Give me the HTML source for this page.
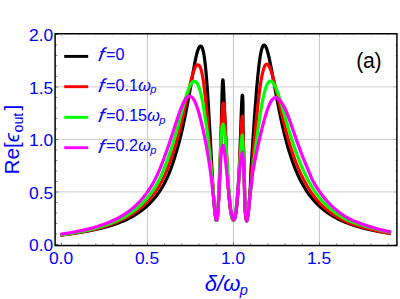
<!DOCTYPE html>
<html><head><meta charset="utf-8"><title>plot</title>
<style>html,body{margin:0;padding:0;background:#fff;overflow:hidden}body{width:400px;height:299px;position:relative;font-family:"Liberation Sans",sans-serif}</style>
</head><body>
<svg width="400" height="299" viewBox="0 0 400 299" style="position:absolute;left:0;top:0">
<rect width="400" height="299" fill="#ffffff"/>
<line x1="147.45" y1="33.75" x2="147.45" y2="245.55" stroke="#b8b8b8" stroke-width="0.8"/>
<line x1="233.45" y1="33.75" x2="233.45" y2="245.55" stroke="#b8b8b8" stroke-width="0.8"/>
<line x1="319.45" y1="33.75" x2="319.45" y2="245.55" stroke="#b8b8b8" stroke-width="0.8"/>
<line x1="55.1" y1="191.90" x2="396.9" y2="191.90" stroke="#c6c6c6" stroke-width="0.9"/>
<line x1="55.1" y1="139.40" x2="396.9" y2="139.40" stroke="#c6c6c6" stroke-width="0.9"/>
<line x1="55.1" y1="86.90" x2="396.9" y2="86.90" stroke="#c6c6c6" stroke-width="0.9"/>
<clipPath id="c"><rect x="55.1" y="33.75" width="341.79999999999995" height="211.8"/></clipPath>
<g clip-path="url(#c)" fill="none" stroke-linejoin="round" stroke-linecap="butt">
<path d="M60.40 234.92 L61.00 234.85 L61.59 234.79 L62.19 234.72 L62.79 234.65 L63.38 234.59 L63.98 234.52 L64.57 234.45 L65.17 234.38 L65.77 234.31 L66.36 234.24 L66.96 234.17 L67.55 234.09 L68.15 234.02 L68.74 233.94 L69.34 233.87 L69.93 233.79 L70.53 233.72 L71.12 233.64 L71.72 233.56 L72.31 233.48 L72.91 233.40 L73.50 233.32 L74.10 233.24 L74.69 233.15 L75.28 233.07 L75.88 232.98 L76.47 232.90 L77.07 232.81 L77.66 232.72 L78.25 232.63 L78.85 232.54 L79.44 232.45 L80.03 232.36 L80.63 232.27 L81.22 232.17 L81.81 232.08 L82.40 231.98 L82.99 231.89 L83.59 231.79 L84.18 231.69 L84.77 231.59 L85.36 231.48 L85.95 231.38 L86.54 231.28 L87.13 231.17 L87.72 231.06 L88.31 230.95 L88.90 230.85 L89.49 230.73 L90.08 230.62 L90.67 230.51 L91.26 230.39 L91.85 230.28 L92.44 230.16 L93.03 230.04 L93.61 229.92 L94.20 229.80 L94.79 229.67 L95.37 229.55 L95.96 229.42 L96.55 229.29 L97.13 229.16 L97.72 229.03 L98.30 228.89 L98.89 228.76 L99.47 228.62 L100.05 228.48 L100.64 228.34 L101.22 228.20 L101.80 228.06 L102.39 227.91 L102.97 227.76 L103.55 227.61 L104.13 227.46 L104.71 227.31 L105.29 227.15 L105.87 227.00 L106.45 226.84 L107.02 226.67 L107.60 226.51 L108.18 226.34 L108.75 226.18 L109.33 226.01 L109.90 225.83 L110.48 225.66 L111.05 225.48 L111.62 225.30 L112.19 225.12 L112.77 224.94 L113.34 224.75 L113.90 224.56 L114.47 224.37 L115.04 224.17 L115.61 223.98 L116.17 223.78 L116.74 223.57 L117.30 223.37 L117.87 223.16 L118.43 222.95 L118.99 222.74 L119.55 222.52 L120.11 222.30 L120.66 222.08 L121.22 221.86 L121.78 221.63 L122.33 221.40 L122.88 221.17 L123.43 220.93 L123.98 220.69 L124.53 220.45 L125.08 220.20 L125.63 219.95 L126.17 219.70 L126.71 219.45 L127.25 219.19 L127.79 218.92 L128.33 218.66 L128.87 218.39 L129.40 218.12 L129.94 217.84 L130.47 217.56 L131.00 217.28 L131.52 216.99 L132.05 216.70 L132.57 216.41 L133.09 216.11 L133.61 215.81 L134.13 215.51 L134.65 215.20 L135.16 214.89 L135.67 214.57 L136.18 214.25 L136.68 213.93 L137.19 213.61 L137.69 213.28 L138.19 212.94 L138.68 212.60 L139.18 212.26 L139.67 211.92 L140.16 211.57 L140.64 211.22 L141.12 210.86 L141.60 210.50 L142.08 210.14 L142.56 209.77 L143.03 209.40 L143.50 209.03 L143.96 208.65 L144.42 208.27 L144.88 207.88 L145.34 207.49 L145.79 207.10 L146.24 206.70 L146.69 206.30 L147.14 205.90 L147.58 205.49 L148.01 205.08 L148.45 204.67 L148.88 204.25 L149.31 203.83 L149.73 203.40 L150.15 202.98 L150.57 202.55 L150.99 202.11 L151.40 201.68 L151.80 201.24 L152.21 200.79 L152.61 200.35 L153.01 199.90 L153.40 199.44 L153.79 198.99 L154.18 198.53 L154.56 198.07 L154.94 197.61 L155.32 197.14 L155.70 196.67 L156.07 196.20 L156.43 195.72 L156.80 195.25 L157.16 194.77 L157.51 194.28 L157.87 193.80 L158.22 193.31 L158.56 192.82 L158.91 192.33 L159.25 191.84 L159.59 191.34 L159.92 190.84 L160.25 190.34 L160.58 189.84 L160.90 189.33 L161.22 188.83 L161.54 188.32 L161.85 187.81 L162.16 187.29 L162.47 186.78 L162.77 186.26 L163.07 185.74 L163.37 185.22 L163.66 184.69 L163.95 184.17 L164.23 183.64 L164.51 183.11 L164.79 182.58 L165.07 182.04 L165.34 181.51 L165.61 180.97 L165.88 180.43 L166.14 179.90 L166.40 179.35 L166.65 178.81 L166.91 178.27 L167.16 177.72 L167.41 177.18 L167.65 176.63 L167.89 176.08 L168.13 175.53 L168.37 174.98 L168.60 174.43 L168.84 173.87 L169.06 173.32 L169.29 172.76 L169.52 172.21 L169.74 171.65 L169.96 171.09 L170.17 170.53 L170.39 169.97 L170.60 169.41 L170.81 168.85 L171.02 168.28 L171.23 167.72 L171.43 167.16 L171.63 166.59 L171.83 166.03 L172.03 165.46 L172.23 164.89 L172.43 164.33 L172.62 163.76 L172.81 163.19 L173.00 162.62 L173.19 162.05 L173.38 161.48 L173.57 160.91 L173.75 160.34 L173.94 159.77 L174.12 159.20 L174.30 158.63 L174.48 158.06 L174.66 157.48 L174.84 156.91 L175.02 156.34 L175.19 155.76 L175.37 155.19 L175.54 154.62 L175.72 154.04 L175.89 153.47 L176.06 152.89 L176.24 152.32 L176.41 151.74 L176.58 151.17 L176.75 150.59 L176.92 150.02 L177.09 149.44 L177.26 148.87 L177.42 148.29 L177.59 147.71 L177.75 147.14 L177.92 146.56 L178.08 145.98 L178.24 145.40 L178.40 144.82 L178.56 144.25 L178.72 143.67 L178.87 143.09 L179.03 142.51 L179.18 141.93 L179.33 141.35 L179.49 140.77 L179.64 140.19 L179.79 139.61 L179.94 139.02 L180.09 138.44 L180.23 137.86 L180.38 137.28 L180.52 136.70 L180.67 136.12 L180.81 135.53 L180.95 134.95 L181.10 134.37 L181.24 133.78 L181.38 133.20 L181.52 132.62 L181.65 132.03 L181.79 131.45 L181.93 130.86 L182.06 130.28 L182.20 129.70 L182.33 129.11 L182.47 128.53 L182.60 127.94 L182.73 127.35 L182.86 126.77 L182.99 126.18 L183.12 125.60 L183.25 125.01 L183.38 124.43 L183.51 123.84 L183.64 123.25 L183.76 122.67 L183.89 122.08 L184.01 121.49 L184.14 120.91 L184.26 120.32 L184.38 119.73 L184.51 119.14 L184.63 118.56 L184.75 117.97 L184.87 117.38 L184.99 116.79 L185.11 116.21 L185.23 115.62 L185.35 115.03 L185.47 114.44 L185.59 113.85 L185.70 113.27 L185.82 112.68 L185.94 112.09 L186.05 111.50 L186.17 110.91 L186.28 110.32 L186.40 109.73 L186.51 109.14 L186.62 108.55 L186.74 107.96 L186.85 107.38 L186.96 106.79 L187.07 106.20 L187.18 105.61 L187.29 105.02 L187.41 104.43 L187.52 103.84 L187.63 103.25 L187.73 102.66 L187.84 102.07 L187.95 101.48 L188.06 100.89 L188.17 100.30 L188.28 99.71 L188.38 99.12 L188.49 98.53 L188.60 97.94 L188.71 97.35 L188.81 96.76 L188.92 96.17 L189.02 95.57 L189.13 94.98 L189.24 94.39 L189.34 93.80 L189.45 93.21 L189.55 92.62 L189.66 92.03 L189.76 91.44 L189.86 90.85 L189.97 90.26 L190.07 89.67 L190.18 89.08 L190.28 88.48 L190.38 87.89 L190.49 87.30 L190.59 86.71 L190.69 86.12 L190.80 85.53 L190.90 84.94 L191.00 84.35 L191.11 83.76 L191.21 83.17 L191.31 82.57 L191.41 81.98 L191.52 81.39 L191.62 80.80 L191.72 80.21 L191.83 79.62 L191.93 79.03 L192.03 78.44 L192.14 77.85 L192.24 77.25 L192.34 76.66 L192.45 76.07 L192.55 75.48 L192.65 74.89 L192.76 74.30 L192.86 73.71 L192.97 73.12 L193.07 72.53 L193.18 71.94 L193.28 71.35 L193.39 70.76 L193.49 70.16 L193.60 69.57 L193.71 68.98 L193.81 68.39 L193.92 67.80 L194.03 67.21 L194.14 66.62 L194.25 66.03 L194.36 65.44 L194.47 64.85 L194.58 64.26 L194.70 63.68 L194.81 63.09 L194.92 62.50 L195.04 61.91 L195.15 61.32 L195.27 60.73 L195.39 60.14 L195.51 59.56 L195.63 58.97 L195.76 58.38 L195.88 57.79 L196.01 57.21 L196.14 56.62 L196.27 56.04 L196.40 55.45 L196.54 54.87 L196.68 54.28 L196.83 53.70 L196.99 53.12 L197.14 52.54 L197.31 51.97 L197.48 51.39 L197.66 50.82 L197.85 50.25 L198.05 49.68 L198.26 49.12 L198.49 48.57 L198.74 48.02 L199.02 47.49 L199.33 46.98 L199.71 46.51 L200.18 46.15 L200.76 46.07 L201.28 46.36 L201.66 46.82 L201.97 47.34 L202.22 47.88 L202.44 48.44 L202.63 49.01 L202.81 49.58 L202.97 50.16 L203.12 50.74 L203.27 51.32 L203.40 51.91 L203.52 52.49 L203.64 53.08 L203.75 53.67 L203.86 54.26 L203.97 54.85 L204.07 55.44 L204.16 56.04 L204.25 56.63 L204.34 57.22 L204.43 57.82 L204.51 58.41 L204.59 59.01 L204.67 59.60 L204.75 60.20 L204.82 60.79 L204.89 61.39 L204.96 61.98 L205.03 62.58 L205.10 63.17 L205.17 63.77 L205.23 64.37 L205.30 64.96 L205.36 65.56 L205.42 66.16 L205.48 66.75 L205.54 67.35 L205.60 67.95 L205.66 68.55 L205.72 69.14 L205.77 69.74 L205.83 70.34 L205.89 70.93 L205.94 71.53 L206.00 72.13 L206.05 72.73 L206.10 73.32 L206.15 73.92 L206.21 74.52 L206.26 75.12 L206.31 75.72 L206.36 76.31 L206.41 76.91 L206.46 77.51 L206.50 78.11 L206.55 78.71 L206.60 79.30 L206.65 79.90 L206.69 80.50 L206.74 81.10 L206.79 81.70 L206.83 82.30 L206.88 82.89 L206.92 83.49 L206.97 84.09 L207.01 84.69 L207.06 85.29 L207.10 85.89 L207.14 86.48 L207.19 87.08 L207.23 87.68 L207.27 88.28 L207.32 88.88 L207.36 89.48 L207.40 90.07 L207.44 90.67 L207.48 91.27 L207.52 91.87 L207.56 92.47 L207.60 93.07 L207.64 93.67 L207.68 94.26 L207.72 94.86 L207.76 95.46 L207.80 96.06 L207.84 96.66 L207.88 97.26 L207.92 97.86 L207.96 98.46 L208.00 99.05 L208.04 99.65 L208.07 100.25 L208.11 100.85 L208.15 101.45 L208.19 102.05 L208.23 102.65 L208.26 103.25 L208.30 103.85 L208.34 104.44 L208.37 105.04 L208.41 105.64 L208.45 106.24 L208.48 106.84 L208.52 107.44 L208.56 108.04 L208.59 108.64 L208.63 109.24 L208.66 109.83 L208.70 110.43 L208.74 111.03 L208.77 111.63 L208.81 112.23 L208.84 112.83 L208.88 113.43 L208.91 114.03 L208.95 114.63 L208.98 115.22 L209.02 115.82 L209.05 116.42 L209.09 117.02 L209.12 117.62 L209.15 118.22 L209.19 118.82 L209.22 119.42 L209.26 120.02 L209.29 120.62 L209.33 121.21 L209.36 121.81 L209.39 122.41 L209.43 123.01 L209.46 123.61 L209.49 124.21 L209.53 124.81 L209.56 125.41 L209.59 126.01 L209.63 126.61 L209.66 127.21 L209.69 127.80 L209.73 128.40 L209.76 129.00 L209.79 129.60 L209.83 130.20 L209.86 130.80 L209.89 131.40 L209.93 132.00 L209.96 132.60 L209.99 133.20 L210.02 133.80 L210.06 134.39 L210.09 134.99 L210.12 135.59 L210.15 136.19 L210.19 136.79 L210.22 137.39 L210.25 137.99 L210.28 138.59 L210.32 139.19 L210.35 139.79 L210.38 140.39 L210.41 140.98 L210.45 141.58 L210.48 142.18 L210.51 142.78 L210.54 143.38 L210.58 143.98 L210.61 144.58 L210.64 145.18 L210.67 145.78 L210.70 146.38 L210.74 146.98 L210.77 147.58 L210.80 148.17 L210.83 148.77 L210.87 149.37 L210.90 149.97 L210.93 150.57 L210.96 151.17 L210.99 151.77 L211.03 152.37 L211.06 152.97 L211.09 153.57 L211.12 154.17 L211.16 154.76 L211.19 155.36 L211.22 155.96 L211.25 156.56 L211.29 157.16 L211.32 157.76 L211.35 158.36 L211.38 158.96 L211.41 159.56 L211.45 160.16 L211.48 160.76 L211.51 161.36 L211.55 161.95 L211.58 162.55 L211.61 163.15 L211.64 163.75 L211.68 164.35 L211.71 164.95 L211.74 165.55 L211.77 166.15 L211.81 166.75 L211.84 167.35 L211.87 167.95 L211.91 168.54 L211.94 169.14 L211.97 169.74 L212.01 170.34 L212.04 170.94 L212.07 171.54 L212.11 172.14 L212.14 172.74 L212.17 173.34 L212.21 173.94 L212.24 174.54 L212.27 175.13 L212.31 175.73 L212.34 176.33 L212.38 176.93 L212.41 177.53 L212.45 178.13 L212.48 178.73 L212.51 179.33 L212.55 179.93 L212.58 180.53 L212.62 181.12 L212.65 181.72 L212.69 182.32 L212.72 182.92 L212.76 183.52 L212.80 184.12 L212.83 184.72 L212.87 185.32 L212.90 185.92 L212.94 186.51 L212.98 187.11 L213.01 187.71 L213.05 188.31 L213.09 188.91 L213.12 189.51 L213.16 190.11 L213.20 190.71 L213.24 191.31 L213.28 191.90 L213.31 192.50 L213.35 193.10 L213.39 193.70 L213.43 194.30 L213.47 194.90 L213.51 195.50 L213.55 196.10 L213.59 196.69 L213.63 197.29 L213.67 197.89 L213.71 198.49 L213.76 199.09 L213.80 199.69 L213.84 200.29 L213.88 200.88 L213.93 201.48 L213.97 202.08 L214.02 202.68 L214.06 203.28 L214.11 203.88 L214.15 204.47 L214.20 205.07 L214.25 205.67 L214.29 206.27 L214.34 206.87 L214.39 207.46 L214.44 208.06 L214.50 208.66 L214.55 209.26 L214.60 209.85 L214.66 210.45 L214.72 211.05 L214.77 211.65 L214.83 212.24 L214.90 212.84 L214.96 213.44 L215.03 214.03 L215.09 214.63 L215.17 215.23 L215.24 215.82 L215.32 216.41 L215.41 217.01 L215.50 217.60 L215.60 218.19 L215.72 218.78 L215.85 219.37 L216.03 219.94 L216.38 220.40 L216.72 219.95 L216.89 219.38 L217.02 218.79 L217.13 218.20 L217.22 217.61 L217.30 217.01 L217.38 216.42 L217.45 215.82 L217.52 215.22 L217.58 214.63 L217.64 214.03 L217.70 213.43 L217.75 212.84 L217.80 212.24 L217.85 211.64 L217.90 211.04 L217.95 210.44 L217.99 209.85 L218.04 209.25 L218.08 208.65 L218.12 208.05 L218.17 207.45 L218.21 206.85 L218.25 206.26 L218.29 205.66 L218.32 205.06 L218.36 204.46 L218.40 203.86 L218.43 203.26 L218.47 202.66 L218.51 202.06 L218.54 201.46 L218.58 200.87 L218.61 200.27 L218.64 199.67 L218.68 199.07 L218.71 198.47 L218.74 197.87 L218.77 197.27 L218.81 196.67 L218.84 196.07 L218.87 195.47 L218.90 194.87 L218.93 194.27 L218.96 193.68 L218.99 193.08 L219.02 192.48 L219.05 191.88 L219.08 191.28 L219.11 190.68 L219.14 190.08 L219.17 189.48 L219.19 188.88 L219.22 188.28 L219.25 187.68 L219.28 187.08 L219.31 186.48 L219.33 185.88 L219.36 185.29 L219.39 184.69 L219.41 184.09 L219.44 183.49 L219.47 182.89 L219.50 182.29 L219.52 181.69 L219.55 181.09 L219.57 180.49 L219.60 179.89 L219.63 179.29 L219.65 178.69 L219.68 178.09 L219.70 177.49 L219.73 176.89 L219.75 176.29 L219.78 175.69 L219.80 175.09 L219.83 174.50 L219.85 173.90 L219.88 173.30 L219.90 172.70 L219.92 172.10 L219.95 171.50 L219.97 170.90 L219.99 170.30 L220.02 169.70 L220.04 169.10 L220.06 168.50 L220.09 167.90 L220.11 167.30 L220.13 166.70 L220.15 166.10 L220.18 165.50 L220.20 164.90 L220.22 164.30 L220.24 163.70 L220.26 163.10 L220.29 162.50 L220.31 161.90 L220.33 161.30 L220.35 160.71 L220.37 160.11 L220.39 159.51 L220.41 158.91 L220.43 158.31 L220.45 157.71 L220.47 157.11 L220.49 156.51 L220.51 155.91 L220.53 155.31 L220.55 154.71 L220.57 154.11 L220.59 153.51 L220.60 152.91 L220.62 152.31 L220.64 151.71 L220.66 151.11 L220.68 150.51 L220.70 149.91 L220.71 149.31 L220.73 148.71 L220.75 148.11 L220.77 147.51 L220.78 146.91 L220.80 146.31 L220.82 145.71 L220.83 145.11 L220.85 144.51 L220.87 143.91 L220.88 143.31 L220.90 142.71 L220.92 142.11 L220.93 141.51 L220.95 140.91 L220.96 140.31 L220.98 139.71 L220.99 139.11 L221.01 138.52 L221.03 137.92 L221.04 137.32 L221.06 136.72 L221.07 136.12 L221.09 135.52 L221.10 134.92 L221.12 134.32 L221.13 133.72 L221.14 133.12 L221.16 132.52 L221.17 131.92 L221.19 131.32 L221.20 130.72 L221.22 130.12 L221.23 129.52 L221.25 128.92 L221.26 128.32 L221.27 127.72 L221.29 127.12 L221.30 126.52 L221.31 125.92 L221.33 125.32 L221.34 124.72 L221.36 124.12 L221.37 123.52 L221.38 122.92 L221.40 122.32 L221.41 121.72 L221.42 121.12 L221.44 120.52 L221.45 119.92 L221.46 119.32 L221.48 118.72 L221.49 118.12 L221.50 117.52 L221.52 116.92 L221.53 116.32 L221.54 115.72 L221.56 115.12 L221.57 114.52 L221.58 113.92 L221.60 113.32 L221.61 112.72 L221.62 112.12 L221.64 111.52 L221.65 110.92 L221.66 110.32 L221.68 109.72 L221.69 109.12 L221.71 108.52 L221.72 107.92 L221.73 107.32 L221.75 106.72 L221.76 106.12 L221.77 105.52 L221.79 104.92 L221.80 104.32 L221.82 103.72 L221.83 103.12 L221.85 102.52 L221.86 101.92 L221.87 101.33 L221.89 100.73 L221.90 100.13 L221.92 99.53 L221.93 98.93 L221.95 98.33 L221.96 97.73 L221.98 97.13 L222.00 96.53 L222.01 95.93 L222.03 95.33 L222.04 94.73 L222.06 94.13 L222.08 93.53 L222.10 92.93 L222.11 92.33 L222.13 91.73 L222.15 91.13 L222.17 90.53 L222.19 89.93 L222.21 89.33 L222.23 88.73 L222.25 88.13 L222.27 87.53 L222.29 86.93 L222.32 86.33 L222.34 85.73 L222.37 85.13 L222.40 84.53 L222.42 83.93 L222.46 83.33 L222.49 82.74 L222.53 82.14 L222.57 81.54 L222.62 80.94 L222.69 80.34 L222.80 79.76 L223.02 80.12 L223.10 80.72 L223.17 81.31 L223.22 81.91 L223.27 82.51 L223.31 83.11 L223.35 83.71 L223.39 84.31 L223.43 84.90 L223.46 85.50 L223.50 86.10 L223.53 86.70 L223.56 87.30 L223.59 87.90 L223.62 88.50 L223.65 89.10 L223.68 89.70 L223.71 90.30 L223.74 90.90 L223.76 91.50 L223.79 92.09 L223.82 92.69 L223.84 93.29 L223.87 93.89 L223.90 94.49 L223.92 95.09 L223.95 95.69 L223.97 96.29 L224.00 96.89 L224.02 97.49 L224.05 98.09 L224.07 98.69 L224.10 99.29 L224.12 99.89 L224.15 100.49 L224.17 101.09 L224.19 101.69 L224.22 102.29 L224.24 102.89 L224.27 103.48 L224.29 104.08 L224.31 104.68 L224.34 105.28 L224.36 105.88 L224.38 106.48 L224.41 107.08 L224.43 107.68 L224.45 108.28 L224.48 108.88 L224.50 109.48 L224.53 110.08 L224.55 110.68 L224.57 111.28 L224.60 111.88 L224.62 112.48 L224.64 113.08 L224.67 113.68 L224.69 114.28 L224.71 114.88 L224.74 115.48 L224.76 116.08 L224.78 116.67 L224.81 117.27 L224.83 117.87 L224.85 118.47 L224.88 119.07 L224.90 119.67 L224.92 120.27 L224.95 120.87 L224.97 121.47 L224.99 122.07 L225.02 122.67 L225.04 123.27 L225.07 123.87 L225.09 124.47 L225.11 125.07 L225.14 125.67 L225.16 126.27 L225.19 126.87 L225.21 127.47 L225.23 128.07 L225.26 128.67 L225.28 129.26 L225.31 129.86 L225.33 130.46 L225.36 131.06 L225.38 131.66 L225.41 132.26 L225.43 132.86 L225.46 133.46 L225.48 134.06 L225.51 134.66 L225.53 135.26 L225.56 135.86 L225.58 136.46 L225.61 137.06 L225.63 137.66 L225.66 138.26 L225.68 138.86 L225.71 139.46 L225.74 140.06 L225.76 140.65 L225.79 141.25 L225.81 141.85 L225.84 142.45 L225.87 143.05 L225.89 143.65 L225.92 144.25 L225.95 144.85 L225.97 145.45 L226.00 146.05 L226.03 146.65 L226.05 147.25 L226.08 147.85 L226.11 148.45 L226.14 149.05 L226.16 149.65 L226.19 150.25 L226.22 150.84 L226.25 151.44 L226.28 152.04 L226.31 152.64 L226.33 153.24 L226.36 153.84 L226.39 154.44 L226.42 155.04 L226.45 155.64 L226.48 156.24 L226.51 156.84 L226.54 157.44 L226.57 158.04 L226.60 158.64 L226.63 159.23 L226.66 159.83 L226.69 160.43 L226.72 161.03 L226.75 161.63 L226.78 162.23 L226.82 162.83 L226.85 163.43 L226.88 164.03 L226.91 164.63 L226.94 165.23 L226.98 165.83 L227.01 166.42 L227.04 167.02 L227.07 167.62 L227.11 168.22 L227.14 168.82 L227.18 169.42 L227.21 170.02 L227.24 170.62 L227.28 171.22 L227.31 171.82 L227.35 172.41 L227.38 173.01 L227.42 173.61 L227.46 174.21 L227.49 174.81 L227.53 175.41 L227.56 176.01 L227.60 176.61 L227.64 177.21 L227.68 177.80 L227.72 178.40 L227.75 179.00 L227.79 179.60 L227.83 180.20 L227.87 180.80 L227.91 181.40 L227.95 182.00 L227.99 182.59 L228.03 183.19 L228.07 183.79 L228.12 184.39 L228.16 184.99 L228.20 185.59 L228.24 186.19 L228.29 186.78 L228.33 187.38 L228.38 187.98 L228.42 188.58 L228.47 189.18 L228.51 189.78 L228.56 190.37 L228.61 190.97 L228.66 191.57 L228.70 192.17 L228.75 192.77 L228.80 193.36 L228.85 193.96 L228.90 194.56 L228.96 195.16 L229.01 195.76 L229.06 196.35 L229.12 196.95 L229.17 197.55 L229.23 198.15 L229.28 198.74 L229.34 199.34 L229.40 199.94 L229.46 200.53 L229.52 201.13 L229.58 201.73 L229.64 202.32 L229.71 202.92 L229.77 203.52 L229.84 204.11 L229.91 204.71 L229.98 205.31 L230.05 205.90 L230.12 206.50 L230.19 207.09 L230.27 207.69 L230.35 208.28 L230.43 208.88 L230.51 209.47 L230.60 210.07 L230.68 210.66 L230.77 211.25 L230.87 211.84 L230.97 212.44 L231.07 213.03 L231.18 213.62 L231.29 214.21 L231.41 214.80 L231.53 215.38 L231.66 215.97 L231.81 216.55 L231.97 217.13 L232.14 217.70 L232.34 218.27 L232.57 218.82 L232.86 219.35 L233.29 219.75 L233.85 219.65 L234.21 219.18 L234.48 218.64 L234.69 218.08 L234.87 217.51 L235.03 216.93 L235.18 216.35 L235.31 215.76 L235.44 215.18 L235.55 214.59 L235.66 214.00 L235.76 213.41 L235.86 212.81 L235.96 212.22 L236.05 211.63 L236.13 211.03 L236.22 210.44 L236.30 209.85 L236.37 209.25 L236.45 208.66 L236.52 208.06 L236.59 207.46 L236.66 206.87 L236.73 206.27 L236.79 205.67 L236.85 205.08 L236.92 204.48 L236.98 203.88 L237.03 203.29 L237.09 202.69 L237.15 202.09 L237.20 201.50 L237.26 200.90 L237.31 200.30 L237.36 199.70 L237.41 199.10 L237.46 198.51 L237.51 197.91 L237.56 197.31 L237.61 196.71 L237.65 196.11 L237.70 195.52 L237.74 194.92 L237.79 194.32 L237.83 193.72 L237.88 193.12 L237.92 192.52 L237.96 191.93 L238.00 191.33 L238.04 190.73 L238.08 190.13 L238.12 189.53 L238.16 188.93 L238.20 188.33 L238.24 187.73 L238.27 187.14 L238.31 186.54 L238.35 185.94 L238.38 185.34 L238.42 184.74 L238.45 184.14 L238.49 183.54 L238.52 182.94 L238.56 182.34 L238.59 181.74 L238.62 181.15 L238.66 180.55 L238.69 179.95 L238.72 179.35 L238.75 178.75 L238.78 178.15 L238.81 177.55 L238.85 176.95 L238.88 176.35 L238.91 175.75 L238.94 175.15 L238.97 174.55 L238.99 173.96 L239.02 173.36 L239.05 172.76 L239.08 172.16 L239.11 171.56 L239.14 170.96 L239.17 170.36 L239.19 169.76 L239.22 169.16 L239.25 168.56 L239.27 167.96 L239.30 167.36 L239.33 166.76 L239.35 166.16 L239.38 165.56 L239.41 164.96 L239.43 164.37 L239.46 163.77 L239.48 163.17 L239.51 162.57 L239.53 161.97 L239.56 161.37 L239.58 160.77 L239.61 160.17 L239.63 159.57 L239.66 158.97 L239.68 158.37 L239.70 157.77 L239.73 157.17 L239.75 156.57 L239.77 155.97 L239.80 155.37 L239.82 154.77 L239.84 154.17 L239.87 153.57 L239.89 152.97 L239.91 152.37 L239.93 151.78 L239.96 151.18 L239.98 150.58 L240.00 149.98 L240.02 149.38 L240.04 148.78 L240.07 148.18 L240.09 147.58 L240.11 146.98 L240.13 146.38 L240.15 145.78 L240.17 145.18 L240.20 144.58 L240.22 143.98 L240.24 143.38 L240.26 142.78 L240.28 142.18 L240.30 141.58 L240.32 140.98 L240.34 140.38 L240.36 139.78 L240.38 139.18 L240.41 138.58 L240.43 137.98 L240.45 137.38 L240.47 136.78 L240.49 136.19 L240.51 135.59 L240.53 134.99 L240.55 134.39 L240.57 133.79 L240.59 133.19 L240.61 132.59 L240.63 131.99 L240.65 131.39 L240.67 130.79 L240.69 130.19 L240.71 129.59 L240.73 128.99 L240.75 128.39 L240.77 127.79 L240.79 127.19 L240.81 126.59 L240.83 125.99 L240.85 125.39 L240.87 124.79 L240.89 124.19 L240.91 123.59 L240.93 122.99 L240.95 122.39 L240.97 121.79 L240.99 121.19 L241.01 120.59 L241.03 119.99 L241.05 119.39 L241.08 118.80 L241.10 118.20 L241.12 117.60 L241.14 117.00 L241.16 116.40 L241.18 115.80 L241.20 115.20 L241.22 114.60 L241.24 114.00 L241.27 113.40 L241.29 112.80 L241.31 112.20 L241.33 111.60 L241.35 111.00 L241.38 110.40 L241.40 109.80 L241.42 109.20 L241.45 108.60 L241.47 108.00 L241.49 107.40 L241.52 106.80 L241.54 106.20 L241.57 105.60 L241.59 105.00 L241.62 104.41 L241.65 103.81 L241.68 103.21 L241.70 102.61 L241.73 102.01 L241.76 101.41 L241.79 100.81 L241.83 100.21 L241.86 99.61 L241.90 99.01 L241.94 98.41 L241.98 97.82 L242.02 97.22 L242.08 96.62 L242.14 96.02 L242.22 95.43 L242.45 95.15 L242.56 95.74 L242.63 96.34 L242.68 96.94 L242.73 97.53 L242.77 98.13 L242.80 98.73 L242.84 99.33 L242.87 99.93 L242.89 100.53 L242.91 101.13 L242.92 101.73 L242.94 102.33 L242.95 102.93 L242.96 103.53 L242.97 104.13 L242.97 104.73 L242.98 105.33 L242.98 105.93 L242.99 106.53 L242.99 107.13 L242.99 107.73 L242.99 108.33 L242.99 108.93 L242.99 109.53 L242.99 110.13 L242.98 110.73 L242.98 111.33 L242.98 111.93 L242.98 112.53 L242.98 113.13 L242.98 113.73 L242.98 114.33 L242.98 114.93 L242.98 115.53 L242.98 116.13 L242.98 116.73 L242.98 117.33 L242.98 117.93 L242.98 118.53 L242.98 119.13 L242.98 119.73 L242.98 120.33 L242.98 120.93 L242.98 121.53 L242.98 122.13 L242.97 122.73 L242.97 123.33 L242.97 123.93 L242.97 124.53 L242.97 125.13 L242.99 125.73 L243.00 126.33 L243.02 126.93 L243.03 127.53 L243.05 128.13 L243.06 128.73 L243.08 129.33 L243.09 129.93 L243.11 130.53 L243.12 131.13 L243.13 131.73 L243.15 132.33 L243.16 132.93 L243.18 133.53 L243.19 134.13 L243.21 134.73 L243.22 135.32 L243.24 135.92 L243.25 136.52 L243.27 137.12 L243.28 137.72 L243.29 138.32 L243.31 138.92 L243.32 139.52 L243.34 140.12 L243.35 140.72 L243.37 141.32 L243.38 141.92 L243.39 142.52 L243.41 143.12 L243.42 143.72 L243.44 144.32 L243.45 144.92 L243.47 145.52 L243.48 146.12 L243.49 146.72 L243.51 147.32 L243.52 147.92 L243.54 148.52 L243.55 149.12 L243.57 149.72 L243.58 150.32 L243.59 150.92 L243.61 151.52 L243.62 152.12 L243.64 152.72 L243.65 153.32 L243.67 153.92 L243.68 154.52 L243.69 155.12 L243.71 155.72 L243.72 156.32 L243.74 156.92 L243.75 157.52 L243.77 158.12 L243.78 158.72 L243.79 159.32 L243.81 159.92 L243.82 160.52 L243.84 161.12 L243.85 161.72 L243.87 162.32 L243.88 162.92 L243.89 163.52 L243.91 164.12 L243.92 164.72 L243.94 165.32 L243.95 165.92 L243.97 166.52 L243.98 167.12 L244.00 167.72 L244.01 168.32 L244.02 168.92 L244.04 169.52 L244.05 170.12 L244.07 170.71 L244.08 171.31 L244.10 171.91 L244.11 172.51 L244.12 173.11 L244.14 173.71 L244.15 174.31 L244.17 174.91 L244.18 175.51 L244.20 176.11 L244.21 176.71 L244.22 177.31 L244.24 177.91 L244.25 178.51 L244.27 179.11 L244.28 179.71 L244.30 180.31 L244.31 180.91 L244.32 181.51 L244.34 182.11 L244.35 182.71 L244.37 183.31 L244.38 183.91 L244.40 184.51 L244.41 185.11 L244.43 185.71 L244.44 186.31 L244.45 186.91 L244.47 187.51 L244.48 188.11 L244.50 188.71 L244.51 189.31 L244.53 189.91 L244.54 190.51 L244.56 191.11 L244.57 191.71 L244.59 192.31 L244.60 192.91 L244.62 193.51 L244.63 194.11 L244.65 194.71 L244.67 195.31 L244.68 195.91 L244.70 196.51 L244.71 197.11 L244.73 197.71 L244.74 198.31 L244.76 198.91 L244.78 199.51 L244.79 200.11 L244.81 200.71 L244.83 201.31 L244.84 201.91 L244.86 202.50 L244.88 203.10 L244.90 203.70 L244.92 204.30 L244.93 204.90 L244.95 205.50 L244.97 206.10 L244.99 206.70 L245.01 207.30 L245.03 207.90 L245.05 208.50 L245.07 209.10 L245.09 209.70 L245.13 210.30 L245.19 210.90 L245.26 211.49 L245.32 212.09 L245.38 212.69 L245.44 213.28 L245.51 213.88 L245.58 214.48 L245.65 215.07 L245.74 215.67 L245.82 216.26 L245.90 216.85 L245.98 217.45 L246.06 218.04 L246.15 218.64 L246.24 219.23 L246.33 219.82 L246.45 220.41 L246.63 220.98 L246.93 220.59 L247.08 220.00 L247.21 219.42 L247.32 218.83 L247.43 218.24 L247.53 217.65 L247.62 217.06 L247.71 216.46 L247.80 215.87 L247.88 215.27 L247.97 214.68 L248.05 214.09 L248.13 213.49 L248.21 212.90 L248.29 212.30 L248.37 211.71 L248.45 211.11 L248.53 210.52 L248.60 209.92 L248.65 209.32 L248.70 208.73 L248.75 208.13 L248.80 207.53 L248.85 206.93 L248.89 206.33 L248.94 205.74 L248.99 205.14 L249.03 204.54 L249.08 203.94 L249.12 203.34 L249.17 202.75 L249.21 202.15 L249.26 201.55 L249.30 200.95 L249.35 200.35 L249.39 199.75 L249.44 199.16 L249.48 198.56 L249.52 197.96 L249.57 197.36 L249.61 196.76 L249.65 196.16 L249.70 195.56 L249.74 194.97 L249.78 194.37 L249.83 193.77 L249.87 193.17 L249.91 192.57 L249.95 191.97 L249.99 191.38 L250.04 190.78 L250.08 190.18 L250.12 189.58 L250.16 188.98 L250.20 188.38 L250.25 187.78 L250.29 187.19 L250.33 186.59 L250.37 185.99 L250.41 185.39 L250.45 184.79 L250.47 184.19 L250.49 183.59 L250.51 182.99 L250.53 182.39 L250.55 181.79 L250.57 181.19 L250.59 180.59 L250.61 179.99 L250.63 179.39 L250.65 178.79 L250.68 178.19 L250.70 177.60 L250.72 177.00 L250.74 176.40 L250.76 175.80 L250.78 175.20 L250.80 174.60 L250.82 174.00 L250.84 173.40 L250.86 172.80 L250.88 172.20 L250.90 171.60 L250.92 171.00 L250.94 170.40 L250.97 169.80 L251.01 169.20 L251.05 168.60 L251.09 168.00 L251.12 167.41 L251.16 166.81 L251.20 166.21 L251.24 165.61 L251.28 165.01 L251.32 164.41 L251.36 163.81 L251.40 163.21 L251.44 162.62 L251.48 162.02 L251.52 161.42 L251.56 160.82 L251.60 160.22 L251.64 159.62 L251.68 159.02 L251.72 158.42 L251.76 157.83 L251.80 157.23 L251.84 156.63 L251.88 156.03 L251.92 155.43 L251.96 154.83 L252.00 154.23 L252.04 153.64 L252.08 153.04 L252.12 152.44 L252.16 151.84 L252.19 151.24 L252.23 150.64 L252.27 150.04 L252.31 149.44 L252.35 148.85 L252.39 148.25 L252.43 147.65 L252.47 147.05 L252.51 146.45 L252.55 145.85 L252.59 145.25 L252.63 144.65 L252.67 144.06 L252.71 143.46 L252.75 142.86 L252.79 142.26 L252.83 141.66 L252.87 141.06 L252.91 140.46 L252.95 139.87 L252.99 139.27 L253.03 138.67 L253.07 138.07 L253.11 137.47 L253.15 136.87 L253.19 136.27 L253.23 135.67 L253.27 135.08 L253.31 134.48 L253.35 133.88 L253.39 133.28 L253.43 132.68 L253.47 132.08 L253.51 131.48 L253.55 130.89 L253.59 130.29 L253.64 129.69 L253.68 129.09 L253.72 128.49 L253.76 127.89 L253.80 127.29 L253.84 126.70 L253.88 126.10 L253.92 125.50 L253.96 124.90 L254.00 124.30 L254.05 123.70 L254.09 123.10 L254.13 122.51 L254.17 121.91 L254.21 121.31 L254.25 120.71 L254.30 120.11 L254.34 119.51 L254.38 118.91 L254.42 118.32 L254.46 117.72 L254.51 117.12 L254.55 116.52 L254.59 115.92 L254.63 115.32 L254.68 114.72 L254.72 114.13 L254.76 113.53 L254.81 112.93 L254.85 112.33 L254.89 111.73 L254.94 111.13 L254.98 110.54 L255.02 109.94 L255.07 109.34 L255.11 108.74 L255.15 108.14 L255.20 107.54 L255.24 106.95 L255.29 106.35 L255.33 105.75 L255.38 105.15 L255.42 104.55 L255.47 103.95 L255.51 103.36 L255.56 102.76 L255.60 102.16 L255.65 101.56 L255.69 100.96 L255.74 100.36 L255.79 99.77 L255.83 99.17 L255.88 98.57 L255.93 97.97 L255.97 97.37 L256.02 96.77 L256.07 96.18 L256.11 95.58 L256.16 94.98 L256.21 94.38 L256.26 93.78 L256.31 93.19 L256.36 92.59 L256.40 91.99 L256.45 91.39 L256.50 90.79 L256.55 90.20 L256.60 89.60 L256.65 89.00 L256.70 88.40 L256.75 87.81 L256.81 87.21 L256.86 86.61 L256.91 86.01 L256.96 85.41 L257.01 84.82 L257.07 84.22 L257.12 83.62 L257.17 83.02 L257.23 82.43 L257.28 81.83 L257.34 81.23 L257.39 80.63 L257.45 80.04 L257.50 79.44 L257.56 78.84 L257.62 78.24 L257.67 77.65 L257.73 77.05 L257.79 76.45 L257.85 75.85 L257.91 75.26 L257.97 74.66 L258.03 74.06 L258.09 73.47 L258.15 72.87 L258.21 72.27 L258.27 71.68 L258.34 71.08 L258.40 70.48 L258.47 69.89 L258.53 69.29 L258.60 68.69 L258.67 68.10 L258.73 67.50 L258.80 66.91 L258.87 66.31 L258.94 65.71 L259.02 65.12 L259.09 64.52 L259.16 63.93 L259.24 63.33 L259.31 62.74 L259.39 62.14 L259.47 61.55 L259.55 60.95 L259.63 60.36 L259.72 59.76 L259.80 59.17 L259.89 58.58 L259.98 57.98 L260.07 57.39 L260.16 56.80 L260.26 56.21 L260.36 55.61 L260.46 55.02 L260.56 54.43 L260.67 53.84 L260.78 53.25 L260.90 52.66 L261.02 52.08 L261.15 51.49 L261.28 50.90 L261.42 50.32 L261.56 49.74 L261.72 49.16 L261.88 48.58 L262.06 48.01 L262.26 47.44 L262.48 46.88 L262.72 46.34 L263.02 45.81 L263.39 45.34 L263.88 45.02 L264.47 45.06 L264.94 45.42 L265.32 45.89 L265.63 46.40 L265.90 46.93 L266.15 47.48 L266.38 48.04 L266.59 48.60 L266.79 49.16 L266.98 49.73 L267.16 50.30 L267.34 50.88 L267.50 51.45 L267.67 52.03 L267.83 52.61 L267.98 53.19 L268.13 53.77 L268.28 54.35 L268.42 54.93 L268.56 55.52 L268.70 56.10 L268.84 56.69 L268.97 57.27 L269.11 57.86 L269.24 58.44 L269.37 59.03 L269.49 59.61 L269.62 60.20 L269.75 60.79 L269.87 61.37 L269.99 61.96 L270.11 62.55 L270.23 63.14 L270.35 63.72 L270.47 64.31 L270.59 64.90 L270.71 65.49 L270.82 66.08 L270.94 66.67 L271.05 67.26 L271.17 67.84 L271.28 68.43 L271.39 69.02 L271.51 69.61 L271.62 70.20 L271.73 70.79 L271.84 71.38 L271.95 71.97 L272.06 72.56 L272.17 73.15 L272.28 73.74 L272.39 74.33 L272.50 74.92 L272.61 75.51 L272.72 76.10 L272.83 76.69 L272.94 77.28 L273.05 77.87 L273.16 78.46 L273.27 79.05 L273.37 79.64 L273.48 80.23 L273.59 80.82 L273.70 81.41 L273.81 82.00 L273.91 82.59 L274.02 83.18 L274.13 83.77 L274.24 84.36 L274.34 84.95 L274.45 85.54 L274.56 86.13 L274.67 86.72 L274.78 87.31 L274.89 87.90 L274.99 88.49 L275.10 89.08 L275.21 89.67 L275.32 90.26 L275.43 90.85 L275.54 91.44 L275.65 92.03 L275.75 92.62 L275.86 93.21 L275.97 93.80 L276.08 94.39 L276.19 94.98 L276.30 95.57 L276.41 96.16 L276.52 96.75 L276.63 97.34 L276.75 97.93 L276.86 98.52 L276.97 99.11 L277.08 99.70 L277.19 100.29 L277.31 100.88 L277.42 101.47 L277.53 102.06 L277.64 102.65 L277.76 103.24 L277.87 103.83 L277.99 104.41 L278.10 105.00 L278.22 105.59 L278.33 106.18 L278.45 106.77 L278.56 107.36 L278.68 107.95 L278.80 108.54 L278.91 109.12 L279.03 109.71 L279.15 110.30 L279.27 110.89 L279.39 111.48 L279.51 112.06 L279.63 112.65 L279.75 113.24 L279.87 113.83 L279.99 114.42 L280.11 115.00 L280.23 115.59 L280.36 116.18 L280.48 116.77 L280.60 117.35 L280.73 117.94 L280.85 118.53 L280.98 119.11 L281.10 119.70 L281.23 120.29 L281.36 120.87 L281.49 121.46 L281.61 122.04 L281.74 122.63 L281.87 123.22 L282.00 123.80 L282.13 124.39 L282.27 124.97 L282.40 125.56 L282.53 126.14 L282.67 126.73 L282.80 127.31 L282.93 127.90 L283.07 128.48 L283.21 129.07 L283.34 129.65 L283.48 130.23 L283.62 130.82 L283.76 131.40 L283.90 131.98 L284.04 132.57 L284.18 133.15 L284.33 133.73 L284.47 134.32 L284.62 134.90 L284.76 135.48 L284.91 136.06 L285.05 136.64 L285.20 137.23 L285.35 137.81 L285.50 138.39 L285.65 138.97 L285.80 139.55 L285.96 140.13 L286.11 140.71 L286.26 141.29 L286.42 141.87 L286.58 142.45 L286.73 143.03 L286.89 143.61 L287.05 144.18 L287.21 144.76 L287.38 145.34 L287.54 145.92 L287.70 146.49 L287.87 147.07 L288.03 147.65 L288.20 148.22 L288.37 148.80 L288.54 149.37 L288.71 149.95 L288.88 150.52 L289.06 151.10 L289.23 151.67 L289.41 152.25 L289.59 152.82 L289.77 153.39 L289.95 153.96 L290.13 154.54 L290.31 155.11 L290.50 155.68 L290.68 156.25 L290.87 156.82 L291.06 157.39 L291.25 157.96 L291.44 158.52 L291.64 159.09 L291.83 159.66 L292.03 160.23 L292.22 160.79 L292.42 161.36 L292.63 161.92 L292.83 162.49 L293.03 163.05 L293.24 163.62 L293.45 164.18 L293.66 164.74 L293.87 165.30 L294.08 165.86 L294.30 166.42 L294.52 166.98 L294.74 167.54 L294.96 168.10 L295.18 168.66 L295.41 169.21 L295.63 169.77 L295.86 170.32 L296.09 170.88 L296.33 171.43 L296.56 171.98 L296.80 172.53 L297.04 173.08 L297.28 173.63 L297.52 174.18 L297.77 174.73 L298.02 175.27 L298.27 175.82 L298.52 176.36 L298.78 176.90 L299.04 177.45 L299.30 177.99 L299.56 178.53 L299.82 179.06 L300.09 179.60 L300.36 180.14 L300.64 180.67 L300.91 181.20 L301.19 181.74 L301.47 182.27 L301.75 182.79 L302.04 183.32 L302.33 183.85 L302.62 184.37 L302.91 184.90 L303.21 185.42 L303.51 185.94 L303.81 186.45 L304.12 186.97 L304.43 187.48 L304.74 188.00 L305.05 188.51 L305.37 189.02 L305.69 189.52 L306.02 190.03 L306.34 190.53 L306.67 191.03 L307.01 191.53 L307.34 192.03 L307.68 192.52 L308.03 193.02 L308.37 193.51 L308.72 193.99 L309.07 194.48 L309.43 194.96 L309.79 195.44 L310.15 195.92 L310.52 196.40 L310.89 196.87 L311.26 197.34 L311.64 197.81 L312.01 198.27 L312.40 198.74 L312.78 199.19 L313.17 199.65 L313.56 200.11 L313.96 200.56 L314.36 201.00 L314.76 201.45 L315.17 201.89 L315.58 202.33 L315.99 202.76 L316.41 203.20 L316.83 203.63 L317.25 204.05 L317.67 204.47 L318.10 204.89 L318.54 205.31 L318.97 205.72 L319.41 206.13 L319.85 206.54 L320.30 206.94 L320.75 207.34 L321.20 207.73 L321.65 208.12 L322.11 208.51 L322.57 208.89 L323.04 209.28 L323.50 209.65 L323.97 210.03 L324.45 210.39 L324.92 210.76 L325.40 211.12 L325.88 211.48 L326.37 211.84 L326.85 212.19 L327.34 212.53 L327.83 212.88 L328.33 213.22 L328.82 213.55 L329.32 213.89 L329.83 214.21 L330.33 214.54 L330.84 214.86 L331.35 215.18 L331.86 215.49 L332.37 215.80 L332.89 216.11 L333.41 216.41 L333.93 216.71 L334.45 217.01 L334.97 217.30 L335.50 217.59 L336.03 217.87 L336.56 218.15 L337.09 218.43 L337.62 218.70 L338.16 218.98 L338.69 219.24 L339.23 219.51 L339.77 219.77 L340.31 220.03 L340.86 220.28 L341.40 220.53 L341.95 220.78 L342.50 221.02 L343.05 221.27 L343.60 221.50 L344.15 221.74 L344.70 221.97 L345.26 222.20 L345.81 222.43 L346.37 222.65 L346.93 222.87 L347.49 223.09 L348.05 223.30 L348.61 223.51 L349.17 223.72 L349.73 223.93 L350.30 224.13 L350.86 224.33 L351.43 224.53 L352.00 224.73 L352.57 224.92 L353.14 225.11 L353.71 225.30 L354.28 225.48 L354.85 225.67 L355.42 225.85 L355.99 226.02 L356.57 226.20 L357.14 226.37 L357.72 226.54 L358.29 226.71 L358.87 226.88 L359.44 227.05 L360.02 227.21 L360.60 227.37 L361.18 227.53 L361.76 227.68 L362.34 227.84 L362.92 227.99 L363.50 228.14 L364.08 228.29 L364.66 228.43 L365.24 228.58 L365.83 228.72 L366.41 228.86 L366.99 229.00 L367.58 229.14 L368.16 229.27 L368.75 229.41 L369.33 229.54 L369.92 229.67 L370.50 229.80 L371.09 229.93 L371.68 230.05 L372.26 230.18 L372.85 230.30 L373.44 230.42 L374.03 230.54 L374.62 230.66 L375.20 230.78 L375.79 230.89 L376.38 231.01 L376.97 231.12 L377.56 231.23 L378.15 231.34 L378.74 231.45 L379.33 231.55 L379.92 231.66 L380.51 231.76 L381.10 231.87 L381.70 231.97 L382.29 232.07 L382.88 232.17 L383.47 232.27 L384.06 232.37 L384.65 232.46 L385.25 232.56 L385.84 232.65 L386.43 232.74 L387.03 232.84 L387.62 232.93 L388.21 233.02 L388.81 233.11 L389.40 233.19 L389.99 233.28 L390.59 233.37 L391.00 233.42" stroke="#000000" stroke-width="3.2"/>
<path d="M60.40 235.22 L61.00 235.14 L61.59 235.07 L62.19 234.99 L62.78 234.91 L63.38 234.84 L63.97 234.76 L64.57 234.68 L65.16 234.60 L65.75 234.52 L66.35 234.43 L66.94 234.35 L67.54 234.27 L68.13 234.18 L68.72 234.10 L69.32 234.01 L69.91 233.92 L70.51 233.83 L71.10 233.74 L71.69 233.65 L72.28 233.56 L72.88 233.47 L73.47 233.38 L74.06 233.28 L74.66 233.19 L75.25 233.09 L75.84 232.99 L76.43 232.89 L77.02 232.79 L77.61 232.69 L78.21 232.59 L78.80 232.49 L79.39 232.38 L79.98 232.28 L80.57 232.17 L81.16 232.06 L81.75 231.95 L82.34 231.84 L82.93 231.73 L83.52 231.62 L84.11 231.50 L84.69 231.39 L85.28 231.27 L85.87 231.15 L86.46 231.03 L87.05 230.91 L87.63 230.79 L88.22 230.66 L88.81 230.54 L89.39 230.41 L89.98 230.28 L90.57 230.15 L91.15 230.02 L91.74 229.89 L92.32 229.75 L92.91 229.61 L93.49 229.48 L94.07 229.34 L94.66 229.19 L95.24 229.05 L95.82 228.91 L96.40 228.76 L96.98 228.61 L97.56 228.46 L98.14 228.31 L98.72 228.15 L99.30 228.00 L99.88 227.84 L100.46 227.68 L101.04 227.52 L101.62 227.35 L102.19 227.19 L102.77 227.02 L103.34 226.85 L103.92 226.68 L104.49 226.50 L105.07 226.32 L105.64 226.15 L106.21 225.96 L106.78 225.78 L107.35 225.59 L107.92 225.41 L108.49 225.22 L109.06 225.02 L109.63 224.83 L110.19 224.63 L110.76 224.43 L111.32 224.23 L111.89 224.02 L112.45 223.81 L113.01 223.60 L113.57 223.39 L114.13 223.17 L114.69 222.96 L115.25 222.73 L115.80 222.51 L116.36 222.28 L116.91 222.05 L117.47 221.82 L118.02 221.58 L118.57 221.35 L119.12 221.10 L119.67 220.86 L120.21 220.61 L120.76 220.36 L121.30 220.11 L121.84 219.85 L122.39 219.59 L122.92 219.33 L123.46 219.06 L124.00 218.79 L124.53 218.52 L125.07 218.24 L125.60 217.97 L126.13 217.68 L126.65 217.40 L127.18 217.11 L127.70 216.82 L128.23 216.52 L128.74 216.22 L129.26 215.92 L129.78 215.61 L130.29 215.30 L130.80 214.99 L131.31 214.67 L131.82 214.35 L132.33 214.03 L132.83 213.70 L133.33 213.37 L133.83 213.03 L134.32 212.70 L134.82 212.36 L135.31 212.01 L135.80 211.66 L136.28 211.31 L136.77 210.95 L137.25 210.60 L137.72 210.23 L138.20 209.87 L138.67 209.50 L139.14 209.12 L139.61 208.75 L140.07 208.37 L140.54 207.98 L140.99 207.60 L141.45 207.21 L141.90 206.81 L142.35 206.42 L142.80 206.02 L143.24 205.61 L143.68 205.20 L144.12 204.79 L144.56 204.38 L144.99 203.96 L145.42 203.54 L145.84 203.12 L146.26 202.69 L146.68 202.26 L147.10 201.83 L147.51 201.40 L147.92 200.96 L148.33 200.52 L148.73 200.07 L149.13 199.63 L149.53 199.18 L149.92 198.72 L150.31 198.27 L150.70 197.81 L151.08 197.35 L151.46 196.88 L151.84 196.42 L152.22 195.95 L152.59 195.48 L152.96 195.00 L153.32 194.53 L153.68 194.05 L154.04 193.57 L154.40 193.09 L154.75 192.60 L155.10 192.11 L155.45 191.62 L155.79 191.13 L156.13 190.64 L156.47 190.14 L156.80 189.64 L157.13 189.14 L157.46 188.64 L157.78 188.13 L158.10 187.63 L158.42 187.12 L158.73 186.60 L159.04 186.09 L159.35 185.57 L159.65 185.06 L159.95 184.54 L160.25 184.02 L160.54 183.49 L160.83 182.97 L161.12 182.44 L161.41 181.91 L161.69 181.38 L161.97 180.85 L162.24 180.32 L162.51 179.78 L162.78 179.25 L163.05 178.71 L163.31 178.17 L163.57 177.63 L163.83 177.09 L164.08 176.55 L164.34 176.00 L164.59 175.46 L164.83 174.91 L165.08 174.36 L165.32 173.81 L165.56 173.26 L165.80 172.71 L166.03 172.16 L166.27 171.61 L166.50 171.05 L166.72 170.50 L166.95 169.94 L167.18 169.38 L167.40 168.83 L167.62 168.27 L167.83 167.71 L168.05 167.15 L168.27 166.59 L168.48 166.03 L168.69 165.47 L168.90 164.90 L169.11 164.34 L169.31 163.78 L169.52 163.21 L169.72 162.65 L169.92 162.08 L170.12 161.52 L170.32 160.95 L170.52 160.39 L170.71 159.82 L170.91 159.25 L171.10 158.68 L171.29 158.11 L171.48 157.55 L171.67 156.98 L171.86 156.41 L172.05 155.84 L172.24 155.27 L172.43 154.70 L172.62 154.13 L172.80 153.56 L172.99 152.99 L173.17 152.42 L173.35 151.84 L173.54 151.27 L173.72 150.70 L173.90 150.13 L174.09 149.56 L174.27 148.99 L174.45 148.41 L174.62 147.84 L174.80 147.27 L174.98 146.69 L175.15 146.12 L175.33 145.55 L175.50 144.97 L175.67 144.40 L175.84 143.82 L176.01 143.25 L176.18 142.67 L176.35 142.09 L176.51 141.52 L176.68 140.94 L176.84 140.36 L177.01 139.79 L177.17 139.21 L177.33 138.63 L177.49 138.05 L177.65 137.48 L177.81 136.90 L177.97 136.32 L178.13 135.74 L178.28 135.16 L178.44 134.58 L178.59 134.00 L178.75 133.42 L178.90 132.84 L179.05 132.26 L179.20 131.68 L179.36 131.10 L179.51 130.52 L179.65 129.94 L179.80 129.36 L179.95 128.77 L180.10 128.19 L180.25 127.61 L180.39 127.03 L180.54 126.45 L180.68 125.86 L180.83 125.28 L180.97 124.70 L181.11 124.12 L181.25 123.53 L181.40 122.95 L181.54 122.37 L181.68 121.78 L181.82 121.20 L181.96 120.62 L182.10 120.03 L182.23 119.45 L182.37 118.87 L182.51 118.28 L182.65 117.70 L182.78 117.11 L182.92 116.53 L183.05 115.94 L183.19 115.36 L183.32 114.77 L183.46 114.19 L183.59 113.61 L183.73 113.02 L183.86 112.44 L183.99 111.85 L184.13 111.27 L184.26 110.68 L184.39 110.09 L184.52 109.51 L184.65 108.92 L184.78 108.34 L184.92 107.75 L185.05 107.17 L185.18 106.58 L185.31 106.00 L185.44 105.41 L185.57 104.82 L185.70 104.24 L185.83 103.65 L185.96 103.07 L186.08 102.48 L186.21 101.90 L186.34 101.31 L186.47 100.72 L186.60 100.14 L186.73 99.55 L186.86 98.97 L186.99 98.38 L187.12 97.79 L187.24 97.21 L187.37 96.62 L187.50 96.04 L187.63 95.45 L187.76 94.86 L187.89 94.28 L188.02 93.69 L188.15 93.11 L188.28 92.52 L188.41 91.93 L188.54 91.35 L188.67 90.76 L188.80 90.18 L188.93 89.59 L189.07 89.01 L189.20 88.42 L189.33 87.84 L189.46 87.25 L189.60 86.67 L189.73 86.08 L189.87 85.50 L190.00 84.91 L190.14 84.33 L190.27 83.74 L190.41 83.16 L190.55 82.58 L190.69 81.99 L190.83 81.41 L190.97 80.83 L191.12 80.24 L191.26 79.66 L191.41 79.08 L191.56 78.50 L191.71 77.92 L191.86 77.34 L192.01 76.76 L192.16 76.18 L192.32 75.60 L192.48 75.02 L192.64 74.44 L192.81 73.86 L192.98 73.29 L193.15 72.71 L193.33 72.14 L193.51 71.57 L193.70 71.00 L193.90 70.43 L194.10 69.87 L194.32 69.31 L194.55 68.76 L194.79 68.21 L195.05 67.66 L195.32 67.13 L195.63 66.61 L195.96 66.12 L196.33 65.65 L196.76 65.23 L197.27 64.91 L197.85 64.78 L198.43 64.93 L198.92 65.27 L199.32 65.72 L199.65 66.22 L199.94 66.74 L200.20 67.28 L200.44 67.83 L200.65 68.40 L200.84 68.96 L201.03 69.53 L201.20 70.11 L201.36 70.69 L201.51 71.27 L201.65 71.85 L201.79 72.43 L201.92 73.02 L202.05 73.61 L202.17 74.20 L202.28 74.78 L202.39 75.37 L202.50 75.96 L202.61 76.55 L202.71 77.15 L202.81 77.74 L202.91 78.33 L203.01 78.92 L203.10 79.51 L203.19 80.11 L203.28 80.70 L203.37 81.29 L203.46 81.89 L203.54 82.48 L203.63 83.07 L203.71 83.67 L203.79 84.26 L203.87 84.86 L203.95 85.45 L204.03 86.05 L204.11 86.64 L204.18 87.24 L204.26 87.83 L204.33 88.43 L204.41 89.02 L204.48 89.62 L204.55 90.21 L204.62 90.81 L204.69 91.41 L204.76 92.00 L204.83 92.60 L204.90 93.19 L204.97 93.79 L205.03 94.39 L205.10 94.98 L205.16 95.58 L205.23 96.18 L205.29 96.77 L205.36 97.37 L205.42 97.97 L205.48 98.56 L205.54 99.16 L205.61 99.76 L205.67 100.35 L205.73 100.95 L205.79 101.55 L205.85 102.14 L205.91 102.74 L205.97 103.34 L206.03 103.94 L206.08 104.53 L206.14 105.13 L206.20 105.73 L206.26 106.32 L206.31 106.92 L206.37 107.52 L206.43 108.12 L206.48 108.71 L206.54 109.31 L206.59 109.91 L206.65 110.51 L206.70 111.10 L206.76 111.70 L206.81 112.30 L206.87 112.90 L206.92 113.49 L206.98 114.09 L207.03 114.69 L207.08 115.29 L207.14 115.88 L207.19 116.48 L207.24 117.08 L207.29 117.68 L207.34 118.27 L207.40 118.87 L207.45 119.47 L207.50 120.07 L207.55 120.67 L207.60 121.26 L207.65 121.86 L207.70 122.46 L207.75 123.06 L207.80 123.66 L207.86 124.25 L207.91 124.85 L207.96 125.45 L208.01 126.05 L208.05 126.64 L208.10 127.24 L208.15 127.84 L208.20 128.44 L208.25 129.04 L208.30 129.63 L208.35 130.23 L208.40 130.83 L208.45 131.43 L208.50 132.03 L208.54 132.62 L208.59 133.22 L208.64 133.82 L208.69 134.42 L208.74 135.02 L208.79 135.62 L208.83 136.21 L208.88 136.81 L208.93 137.41 L208.98 138.01 L209.02 138.61 L209.07 139.20 L209.12 139.80 L209.17 140.40 L209.21 141.00 L209.26 141.60 L209.31 142.19 L209.35 142.79 L209.40 143.39 L209.45 143.99 L209.49 144.59 L209.54 145.19 L209.59 145.78 L209.63 146.38 L209.68 146.98 L209.73 147.58 L209.77 148.18 L209.82 148.77 L209.87 149.37 L209.91 149.97 L209.96 150.57 L210.01 151.17 L210.05 151.77 L210.10 152.36 L210.15 152.96 L210.19 153.56 L210.24 154.16 L210.28 154.76 L210.33 155.35 L210.38 155.95 L210.42 156.55 L210.47 157.15 L210.51 157.75 L210.56 158.35 L210.61 158.94 L210.65 159.54 L210.70 160.14 L210.75 160.74 L210.79 161.34 L210.84 161.94 L210.88 162.53 L210.93 163.13 L210.98 163.73 L211.02 164.33 L211.07 164.93 L211.11 165.52 L211.16 166.12 L211.21 166.72 L211.25 167.32 L211.30 167.92 L211.35 168.52 L211.39 169.11 L211.44 169.71 L211.48 170.31 L211.53 170.91 L211.58 171.51 L211.62 172.10 L211.67 172.70 L211.72 173.30 L211.76 173.90 L211.81 174.50 L211.86 175.10 L211.90 175.69 L211.95 176.29 L212.00 176.89 L212.04 177.49 L212.09 178.09 L212.14 178.68 L212.19 179.28 L212.23 179.88 L212.28 180.48 L212.33 181.08 L212.37 181.68 L212.42 182.27 L212.47 182.87 L212.52 183.47 L212.57 184.07 L212.61 184.67 L212.66 185.26 L212.71 185.86 L212.76 186.46 L212.81 187.06 L212.86 187.66 L212.90 188.25 L212.95 188.85 L213.00 189.45 L213.05 190.05 L213.10 190.65 L213.15 191.24 L213.20 191.84 L213.25 192.44 L213.30 193.04 L213.35 193.64 L213.40 194.23 L213.45 194.83 L213.50 195.43 L213.55 196.03 L213.60 196.63 L213.65 197.22 L213.71 197.82 L213.76 198.42 L213.81 199.02 L213.86 199.61 L213.92 200.21 L213.97 200.81 L214.02 201.41 L214.08 202.00 L214.13 202.60 L214.19 203.20 L214.24 203.80 L214.30 204.39 L214.35 204.99 L214.41 205.59 L214.47 206.19 L214.53 206.78 L214.59 207.38 L214.64 207.98 L214.70 208.57 L214.77 209.17 L214.83 209.77 L214.89 210.36 L214.95 210.96 L215.02 211.56 L215.09 212.15 L215.15 212.75 L215.22 213.35 L215.29 213.94 L215.37 214.54 L215.44 215.13 L215.52 215.73 L215.61 216.32 L215.69 216.92 L215.79 217.51 L215.89 218.10 L216.00 218.69 L216.12 219.28 L216.27 219.86 L216.49 220.42 L216.90 220.39 L217.09 219.82 L217.22 219.24 L217.31 218.65 L217.40 218.05 L217.47 217.46 L217.54 216.86 L217.60 216.26 L217.65 215.67 L217.71 215.07 L217.76 214.47 L217.80 213.87 L217.85 213.27 L217.89 212.67 L217.93 212.08 L217.97 211.48 L218.01 210.88 L218.05 210.28 L218.08 209.68 L218.12 209.08 L218.15 208.48 L218.19 207.88 L218.22 207.28 L218.25 206.69 L218.28 206.09 L218.31 205.49 L218.34 204.89 L218.37 204.29 L218.40 203.69 L218.43 203.09 L218.46 202.49 L218.49 201.89 L218.52 201.29 L218.54 200.69 L218.57 200.09 L218.60 199.49 L218.62 198.89 L218.65 198.29 L218.67 197.70 L218.70 197.10 L218.72 196.50 L218.75 195.90 L218.77 195.30 L218.80 194.70 L218.82 194.10 L218.84 193.50 L218.87 192.90 L218.89 192.30 L218.92 191.70 L218.94 191.10 L218.96 190.50 L218.98 189.90 L219.01 189.30 L219.03 188.70 L219.05 188.10 L219.08 187.50 L219.10 186.90 L219.12 186.30 L219.14 185.70 L219.16 185.10 L219.19 184.51 L219.21 183.91 L219.23 183.31 L219.25 182.71 L219.27 182.11 L219.30 181.51 L219.32 180.91 L219.34 180.31 L219.36 179.71 L219.38 179.11 L219.40 178.51 L219.43 177.91 L219.45 177.31 L219.47 176.71 L219.49 176.11 L219.51 175.51 L219.53 174.91 L219.56 174.31 L219.58 173.71 L219.60 173.11 L219.62 172.51 L219.64 171.91 L219.66 171.31 L219.68 170.71 L219.71 170.11 L219.73 169.52 L219.75 168.92 L219.77 168.32 L219.79 167.72 L219.81 167.12 L219.83 166.52 L219.86 165.92 L219.88 165.32 L219.90 164.72 L219.92 164.12 L219.94 163.52 L219.96 162.92 L219.99 162.32 L220.01 161.72 L220.03 161.12 L220.05 160.52 L220.07 159.92 L220.10 159.32 L220.12 158.72 L220.14 158.12 L220.16 157.52 L220.18 156.92 L220.21 156.32 L220.23 155.72 L220.25 155.12 L220.27 154.53 L220.30 153.93 L220.32 153.33 L220.34 152.73 L220.36 152.13 L220.39 151.53 L220.41 150.93 L220.43 150.33 L220.46 149.73 L220.48 149.13 L220.50 148.53 L220.52 147.93 L220.55 147.33 L220.57 146.73 L220.60 146.13 L220.62 145.53 L220.64 144.93 L220.67 144.33 L220.69 143.73 L220.71 143.13 L220.74 142.53 L220.76 141.93 L220.79 141.34 L220.81 140.74 L220.84 140.14 L220.86 139.54 L220.89 138.94 L220.91 138.34 L220.94 137.74 L220.96 137.14 L220.99 136.54 L221.01 135.94 L221.04 135.34 L221.06 134.74 L221.09 134.14 L221.12 133.54 L221.14 132.94 L221.17 132.34 L221.20 131.74 L221.22 131.14 L221.25 130.54 L221.28 129.95 L221.30 129.35 L221.33 128.75 L221.36 128.15 L221.39 127.55 L221.42 126.95 L221.45 126.35 L221.47 125.75 L221.50 125.15 L221.53 124.55 L221.56 123.95 L221.59 123.35 L221.62 122.75 L221.65 122.15 L221.68 121.56 L221.72 120.96 L221.75 120.36 L221.78 119.76 L221.81 119.16 L221.84 118.56 L221.88 117.96 L221.91 117.36 L221.95 116.76 L221.98 116.16 L222.02 115.56 L222.05 114.97 L222.09 114.37 L222.13 113.77 L222.17 113.17 L222.21 112.57 L222.25 111.97 L222.29 111.37 L222.33 110.78 L222.38 110.18 L222.43 109.58 L222.48 108.98 L222.53 108.38 L222.58 107.79 L222.64 107.19 L222.70 106.59 L222.76 105.99 L222.83 105.40 L222.92 104.80 L223.01 104.21 L223.14 103.63 L223.39 103.10 L223.68 103.58 L223.81 104.17 L223.91 104.76 L223.99 105.36 L224.06 105.95 L224.12 106.55 L224.18 107.14 L224.24 107.74 L224.29 108.34 L224.34 108.94 L224.39 109.54 L224.43 110.13 L224.48 110.73 L224.52 111.33 L224.56 111.93 L224.60 112.53 L224.64 113.13 L224.68 113.73 L224.72 114.32 L224.75 114.92 L224.79 115.52 L224.82 116.12 L224.86 116.72 L224.89 117.32 L224.92 117.92 L224.96 118.52 L224.99 119.12 L225.02 119.72 L225.05 120.32 L225.08 120.91 L225.11 121.51 L225.14 122.11 L225.18 122.71 L225.21 123.31 L225.23 123.91 L225.26 124.51 L225.29 125.11 L225.32 125.71 L225.35 126.31 L225.38 126.91 L225.41 127.51 L225.44 128.11 L225.47 128.71 L225.49 129.30 L225.52 129.90 L225.55 130.50 L225.58 131.10 L225.60 131.70 L225.63 132.30 L225.66 132.90 L225.69 133.50 L225.71 134.10 L225.74 134.70 L225.77 135.30 L225.79 135.90 L225.82 136.50 L225.85 137.10 L225.87 137.70 L225.90 138.30 L225.93 138.89 L225.95 139.49 L225.98 140.09 L226.01 140.69 L226.03 141.29 L226.06 141.89 L226.09 142.49 L226.11 143.09 L226.14 143.69 L226.17 144.29 L226.19 144.89 L226.22 145.49 L226.25 146.09 L226.27 146.69 L226.30 147.29 L226.33 147.89 L226.35 148.49 L226.38 149.08 L226.41 149.68 L226.44 150.28 L226.46 150.88 L226.49 151.48 L226.52 152.08 L226.54 152.68 L226.57 153.28 L226.60 153.88 L226.63 154.48 L226.65 155.08 L226.68 155.68 L226.71 156.28 L226.74 156.88 L226.76 157.48 L226.79 158.08 L226.82 158.67 L226.85 159.27 L226.88 159.87 L226.91 160.47 L226.93 161.07 L226.96 161.67 L226.99 162.27 L227.02 162.87 L227.05 163.47 L227.08 164.07 L227.11 164.67 L227.14 165.27 L227.17 165.87 L227.20 166.47 L227.23 167.06 L227.26 167.66 L227.29 168.26 L227.32 168.86 L227.35 169.46 L227.38 170.06 L227.41 170.66 L227.44 171.26 L227.48 171.86 L227.51 172.46 L227.54 173.06 L227.57 173.66 L227.60 174.25 L227.64 174.85 L227.67 175.45 L227.70 176.05 L227.74 176.65 L227.77 177.25 L227.80 177.85 L227.84 178.45 L227.87 179.05 L227.91 179.65 L227.94 180.25 L227.98 180.84 L228.01 181.44 L228.05 182.04 L228.09 182.64 L228.12 183.24 L228.16 183.84 L228.20 184.44 L228.24 185.04 L228.28 185.63 L228.32 186.23 L228.35 186.83 L228.39 187.43 L228.43 188.03 L228.48 188.63 L228.52 189.23 L228.56 189.83 L228.60 190.42 L228.64 191.02 L228.69 191.62 L228.73 192.22 L228.77 192.82 L228.82 193.42 L228.86 194.01 L228.91 194.61 L228.96 195.21 L229.01 195.81 L229.05 196.41 L229.10 197.00 L229.15 197.60 L229.20 198.20 L229.26 198.80 L229.31 199.40 L229.36 199.99 L229.42 200.59 L229.47 201.19 L229.53 201.79 L229.59 202.38 L229.64 202.98 L229.70 203.58 L229.77 204.17 L229.83 204.77 L229.89 205.37 L229.96 205.96 L230.03 206.56 L230.10 207.16 L230.17 207.75 L230.24 208.35 L230.31 208.94 L230.39 209.54 L230.47 210.13 L230.56 210.73 L230.64 211.32 L230.73 211.91 L230.82 212.51 L230.92 213.10 L231.02 213.69 L231.13 214.28 L231.24 214.87 L231.36 215.46 L231.49 216.04 L231.63 216.63 L231.78 217.21 L231.95 217.78 L232.14 218.35 L232.37 218.91 L232.66 219.43 L233.07 219.86 L233.64 219.79 L234.02 219.34 L234.29 218.80 L234.52 218.25 L234.70 217.68 L234.87 217.10 L235.02 216.52 L235.16 215.94 L235.29 215.35 L235.41 214.76 L235.53 214.18 L235.64 213.59 L235.74 212.99 L235.84 212.40 L235.93 211.81 L236.02 211.22 L236.11 210.62 L236.20 210.03 L236.28 209.43 L236.36 208.84 L236.43 208.24 L236.51 207.65 L236.58 207.05 L236.65 206.46 L236.72 205.86 L236.78 205.27 L236.85 204.67 L236.91 204.07 L236.98 203.48 L237.04 202.88 L237.10 202.28 L237.16 201.68 L237.21 201.09 L237.27 200.49 L237.32 199.89 L237.38 199.30 L237.43 198.70 L237.48 198.10 L237.54 197.50 L237.59 196.90 L237.64 196.31 L237.68 195.71 L237.73 195.11 L237.78 194.51 L237.83 193.91 L237.87 193.32 L237.92 192.72 L237.96 192.12 L238.01 191.52 L238.05 190.92 L238.09 190.32 L238.14 189.73 L238.18 189.13 L238.22 188.53 L238.26 187.93 L238.30 187.33 L238.34 186.73 L238.38 186.13 L238.42 185.53 L238.46 184.94 L238.49 184.34 L238.53 183.74 L238.57 183.14 L238.61 182.54 L238.64 181.94 L238.68 181.34 L238.71 180.74 L238.75 180.15 L238.79 179.55 L238.82 178.95 L238.85 178.35 L238.89 177.75 L238.92 177.15 L238.96 176.55 L238.99 175.95 L239.02 175.35 L239.05 174.75 L239.09 174.15 L239.12 173.56 L239.15 172.96 L239.18 172.36 L239.21 171.76 L239.25 171.16 L239.28 170.56 L239.31 169.96 L239.34 169.36 L239.37 168.76 L239.40 168.16 L239.43 167.56 L239.46 166.96 L239.49 166.36 L239.52 165.77 L239.55 165.17 L239.58 164.57 L239.61 163.97 L239.64 163.37 L239.66 162.77 L239.69 162.17 L239.72 161.57 L239.75 160.97 L239.78 160.37 L239.81 159.77 L239.83 159.17 L239.86 158.57 L239.89 157.97 L239.92 157.38 L239.95 156.78 L239.97 156.18 L240.00 155.58 L240.03 154.98 L240.06 154.38 L240.08 153.78 L240.11 153.18 L240.14 152.58 L240.16 151.98 L240.19 151.38 L240.22 150.78 L240.24 150.18 L240.27 149.58 L240.30 148.98 L240.33 148.38 L240.35 147.78 L240.38 147.19 L240.41 146.59 L240.43 145.99 L240.46 145.39 L240.49 144.79 L240.51 144.19 L240.54 143.59 L240.57 142.99 L240.59 142.39 L240.62 141.79 L240.65 141.19 L240.68 140.59 L240.70 139.99 L240.73 139.39 L240.76 138.79 L240.79 138.19 L240.81 137.60 L240.84 137.00 L240.87 136.40 L240.90 135.80 L240.93 135.20 L240.96 134.60 L240.98 134.00 L241.01 133.40 L241.04 132.80 L241.07 132.20 L241.10 131.60 L241.13 131.00 L241.16 130.40 L241.19 129.80 L241.23 129.21 L241.26 128.61 L241.29 128.01 L241.32 127.41 L241.36 126.81 L241.39 126.21 L241.43 125.61 L241.46 125.01 L241.50 124.41 L241.54 123.81 L241.58 123.22 L241.62 122.62 L241.66 122.02 L241.70 121.42 L241.75 120.82 L241.80 120.22 L241.85 119.63 L241.90 119.03 L241.97 118.43 L242.04 117.84 L242.12 117.24 L242.23 116.65 L242.43 116.25 L242.52 116.84 L242.56 117.44 L242.59 118.04 L242.61 118.64 L242.63 119.24 L242.64 119.84 L242.65 120.44 L242.65 121.04 L242.66 121.64 L242.66 122.24 L242.66 122.84 L242.67 123.44 L242.69 124.04 L242.71 124.64 L242.73 125.24 L242.76 125.83 L242.80 126.43 L242.83 127.03 L242.86 127.63 L242.89 128.23 L242.92 128.83 L242.94 129.43 L242.97 130.03 L243.00 130.63 L243.03 131.23 L243.05 131.83 L243.08 132.43 L243.10 133.03 L243.13 133.63 L243.15 134.23 L243.18 134.82 L243.20 135.42 L243.22 136.02 L243.25 136.62 L243.27 137.22 L243.29 137.82 L243.31 138.42 L243.33 139.02 L243.36 139.62 L243.38 140.22 L243.40 140.82 L243.42 141.42 L243.44 142.02 L243.46 142.62 L243.48 143.22 L243.50 143.82 L243.52 144.42 L243.53 145.02 L243.55 145.62 L243.57 146.22 L243.59 146.82 L243.61 147.42 L243.63 148.02 L243.64 148.62 L243.66 149.22 L243.68 149.82 L243.69 150.42 L243.71 151.02 L243.73 151.62 L243.74 152.22 L243.76 152.82 L243.78 153.41 L243.79 154.01 L243.81 154.61 L243.82 155.21 L243.84 155.81 L243.86 156.41 L243.87 157.01 L243.89 157.61 L243.90 158.21 L243.92 158.81 L243.93 159.41 L243.94 160.01 L243.96 160.61 L243.97 161.21 L243.99 161.81 L244.00 162.41 L244.02 163.01 L244.03 163.61 L244.04 164.21 L244.06 164.81 L244.07 165.41 L244.08 166.01 L244.10 166.61 L244.11 167.21 L244.13 167.81 L244.14 168.41 L244.15 169.01 L244.17 169.61 L244.18 170.21 L244.19 170.81 L244.20 171.41 L244.22 172.01 L244.23 172.61 L244.24 173.21 L244.26 173.81 L244.27 174.41 L244.28 175.01 L244.29 175.61 L244.31 176.21 L244.32 176.81 L244.33 177.41 L244.34 178.01 L244.36 178.61 L244.37 179.21 L244.38 179.81 L244.39 180.41 L244.41 181.01 L244.42 181.61 L244.43 182.21 L244.44 182.81 L244.46 183.41 L244.47 184.01 L244.48 184.61 L244.49 185.21 L244.51 185.81 L244.52 186.41 L244.53 187.01 L244.54 187.61 L244.56 188.21 L244.57 188.81 L244.58 189.41 L244.60 190.01 L244.61 190.61 L244.62 191.21 L244.63 191.81 L244.65 192.41 L244.66 193.01 L244.67 193.60 L244.69 194.20 L244.70 194.80 L244.71 195.40 L244.73 196.00 L244.74 196.60 L244.75 197.20 L244.77 197.80 L244.78 198.40 L244.80 199.00 L244.81 199.60 L244.82 200.20 L244.84 200.80 L244.85 201.40 L244.87 202.00 L244.88 202.60 L244.90 203.20 L244.91 203.80 L244.93 204.40 L244.95 205.00 L244.96 205.60 L244.98 206.20 L245.00 206.80 L245.01 207.40 L245.03 208.00 L245.05 208.60 L245.07 209.20 L245.09 209.80 L245.13 210.40 L245.19 210.99 L245.25 211.59 L245.31 212.19 L245.37 212.79 L245.43 213.38 L245.50 213.98 L245.56 214.58 L245.63 215.17 L245.70 215.77 L245.78 216.36 L245.86 216.96 L245.94 217.55 L246.02 218.15 L246.11 218.74 L246.20 219.33 L246.30 219.92 L246.42 220.51 L246.72 220.71 L246.90 220.14 L247.03 219.55 L247.15 218.96 L247.27 218.38 L247.38 217.79 L247.48 217.19 L247.57 216.60 L247.67 216.01 L247.76 215.42 L247.85 214.82 L247.94 214.23 L248.02 213.64 L248.11 213.04 L248.20 212.45 L248.28 211.86 L248.37 211.26 L248.45 210.67 L248.54 210.07 L248.60 209.48 L248.66 208.88 L248.71 208.28 L248.77 207.68 L248.83 207.09 L248.88 206.49 L248.94 205.89 L249.00 205.30 L249.05 204.70 L249.11 204.10 L249.16 203.50 L249.22 202.91 L249.28 202.31 L249.33 201.71 L249.39 201.11 L249.44 200.52 L249.50 199.92 L249.56 199.32 L249.61 198.72 L249.67 198.13 L249.72 197.53 L249.78 196.93 L249.84 196.33 L249.89 195.74 L249.95 195.14 L250.00 194.54 L250.06 193.94 L250.11 193.35 L250.17 192.75 L250.22 192.15 L250.28 191.56 L250.33 190.96 L250.39 190.36 L250.45 189.76 L250.50 189.17 L250.56 188.57 L250.61 187.97 L250.67 187.37 L250.72 186.78 L250.78 186.18 L250.83 185.58 L250.88 184.98 L250.92 184.38 L250.95 183.78 L250.99 183.19 L251.02 182.59 L251.06 181.99 L251.09 181.39 L251.13 180.79 L251.16 180.19 L251.20 179.59 L251.23 178.99 L251.27 178.39 L251.30 177.79 L251.32 177.20 L251.35 176.60 L251.38 176.00 L251.42 175.40 L251.45 174.80 L251.48 174.20 L251.52 173.60 L251.55 173.00 L251.59 172.40 L251.63 171.80 L251.67 171.21 L251.71 170.61 L251.75 170.01 L251.80 169.41 L251.85 168.81 L251.91 168.22 L251.96 167.62 L252.02 167.02 L252.07 166.42 L252.12 165.82 L252.18 165.23 L252.23 164.63 L252.28 164.03 L252.34 163.43 L252.39 162.84 L252.45 162.24 L252.50 161.64 L252.55 161.04 L252.61 160.45 L252.66 159.85 L252.71 159.25 L252.77 158.65 L252.82 158.06 L252.87 157.46 L252.93 156.86 L252.98 156.26 L253.04 155.67 L253.09 155.07 L253.14 154.47 L253.20 153.87 L253.25 153.28 L253.30 152.68 L253.36 152.08 L253.41 151.48 L253.47 150.88 L253.52 150.29 L253.57 149.69 L253.63 149.09 L253.68 148.49 L253.73 147.90 L253.79 147.30 L253.84 146.70 L253.90 146.10 L253.95 145.51 L254.01 144.91 L254.06 144.31 L254.11 143.71 L254.17 143.12 L254.22 142.52 L254.28 141.92 L254.33 141.32 L254.39 140.73 L254.44 140.13 L254.50 139.53 L254.55 138.93 L254.61 138.34 L254.66 137.74 L254.72 137.14 L254.77 136.54 L254.83 135.95 L254.88 135.35 L254.94 134.75 L254.99 134.15 L255.05 133.56 L255.10 132.96 L255.16 132.36 L255.21 131.76 L255.27 131.17 L255.33 130.57 L255.38 129.97 L255.44 129.38 L255.50 128.78 L255.55 128.18 L255.61 127.58 L255.67 126.99 L255.72 126.39 L255.78 125.79 L255.84 125.19 L255.90 124.60 L255.95 124.00 L256.01 123.40 L256.07 122.81 L256.13 122.21 L256.18 121.61 L256.24 121.01 L256.30 120.42 L256.36 119.82 L256.42 119.22 L256.48 118.63 L256.54 118.03 L256.60 117.43 L256.66 116.83 L256.72 116.24 L256.78 115.64 L256.84 115.04 L256.90 114.45 L256.96 113.85 L257.02 113.25 L257.08 112.66 L257.14 112.06 L257.21 111.46 L257.27 110.87 L257.33 110.27 L257.39 109.67 L257.46 109.08 L257.52 108.48 L257.58 107.88 L257.65 107.29 L257.71 106.69 L257.78 106.09 L257.84 105.50 L257.91 104.90 L257.97 104.30 L258.04 103.71 L258.11 103.11 L258.17 102.51 L258.24 101.92 L258.31 101.32 L258.38 100.73 L258.45 100.13 L258.52 99.53 L258.59 98.94 L258.66 98.34 L258.73 97.75 L258.80 97.15 L258.87 96.56 L258.94 95.96 L259.01 95.36 L259.09 94.77 L259.16 94.17 L259.24 93.58 L259.31 92.98 L259.39 92.39 L259.47 91.79 L259.54 91.20 L259.62 90.60 L259.70 90.01 L259.78 89.41 L259.86 88.82 L259.94 88.22 L260.03 87.63 L260.11 87.04 L260.20 86.44 L260.28 85.85 L260.37 85.25 L260.46 84.66 L260.55 84.07 L260.64 83.47 L260.73 82.88 L260.82 82.29 L260.92 81.70 L261.01 81.10 L261.11 80.51 L261.21 79.92 L261.31 79.33 L261.41 78.74 L261.52 78.15 L261.63 77.56 L261.74 76.97 L261.85 76.38 L261.97 75.79 L262.08 75.20 L262.20 74.61 L262.33 74.03 L262.46 73.44 L262.59 72.85 L262.73 72.27 L262.87 71.69 L263.02 71.11 L263.17 70.53 L263.33 69.95 L263.50 69.37 L263.67 68.80 L263.86 68.23 L264.06 67.66 L264.28 67.10 L264.51 66.55 L264.77 66.01 L265.06 65.49 L265.40 64.99 L265.80 64.54 L266.29 64.21 L266.88 64.10 L267.44 64.29 L267.92 64.65 L268.32 65.10 L268.67 65.59 L268.99 66.10 L269.27 66.62 L269.54 67.16 L269.79 67.70 L270.03 68.25 L270.26 68.81 L270.48 69.37 L270.69 69.93 L270.89 70.50 L271.09 71.06 L271.28 71.63 L271.46 72.20 L271.65 72.77 L271.83 73.35 L272.00 73.92 L272.17 74.49 L272.34 75.07 L272.51 75.65 L272.67 76.22 L272.83 76.80 L272.99 77.38 L273.15 77.96 L273.31 78.54 L273.46 79.12 L273.61 79.70 L273.76 80.28 L273.91 80.86 L274.06 81.44 L274.21 82.02 L274.36 82.60 L274.50 83.19 L274.65 83.77 L274.79 84.35 L274.93 84.93 L275.07 85.52 L275.22 86.10 L275.36 86.68 L275.50 87.27 L275.64 87.85 L275.77 88.43 L275.91 89.02 L276.05 89.60 L276.19 90.19 L276.33 90.77 L276.46 91.35 L276.60 91.94 L276.73 92.52 L276.87 93.11 L277.01 93.69 L277.14 94.28 L277.28 94.86 L277.41 95.45 L277.55 96.03 L277.68 96.62 L277.82 97.20 L277.95 97.79 L278.08 98.37 L278.22 98.95 L278.35 99.54 L278.49 100.12 L278.62 100.71 L278.76 101.29 L278.89 101.88 L279.03 102.46 L279.16 103.05 L279.29 103.63 L279.43 104.22 L279.56 104.80 L279.70 105.39 L279.83 105.97 L279.97 106.56 L280.11 107.14 L280.24 107.72 L280.38 108.31 L280.51 108.89 L280.65 109.48 L280.79 110.06 L280.92 110.65 L281.06 111.23 L281.20 111.81 L281.34 112.40 L281.47 112.98 L281.61 113.57 L281.75 114.15 L281.89 114.73 L282.03 115.32 L282.17 115.90 L282.31 116.48 L282.45 117.07 L282.59 117.65 L282.73 118.23 L282.88 118.82 L283.02 119.40 L283.16 119.98 L283.30 120.56 L283.45 121.15 L283.59 121.73 L283.74 122.31 L283.88 122.89 L284.03 123.48 L284.18 124.06 L284.32 124.64 L284.47 125.22 L284.62 125.80 L284.77 126.38 L284.92 126.96 L285.07 127.54 L285.22 128.13 L285.37 128.71 L285.52 129.29 L285.67 129.87 L285.83 130.45 L285.98 131.03 L286.14 131.61 L286.29 132.19 L286.45 132.77 L286.60 133.34 L286.76 133.92 L286.92 134.50 L287.08 135.08 L287.24 135.66 L287.40 136.24 L287.56 136.81 L287.73 137.39 L287.89 137.97 L288.05 138.55 L288.22 139.12 L288.38 139.70 L288.55 140.28 L288.72 140.85 L288.89 141.43 L289.06 142.00 L289.23 142.58 L289.40 143.15 L289.57 143.73 L289.75 144.30 L289.92 144.88 L290.10 145.45 L290.28 146.02 L290.45 146.60 L290.63 147.17 L290.81 147.74 L290.99 148.31 L291.18 148.88 L291.36 149.46 L291.55 150.03 L291.73 150.60 L291.92 151.17 L292.11 151.74 L292.30 152.31 L292.49 152.87 L292.68 153.44 L292.87 154.01 L293.07 154.58 L293.27 155.15 L293.46 155.71 L293.66 156.28 L293.86 156.84 L294.06 157.41 L294.27 157.97 L294.47 158.54 L294.68 159.10 L294.89 159.66 L295.10 160.23 L295.31 160.79 L295.52 161.35 L295.73 161.91 L295.95 162.47 L296.17 163.03 L296.39 163.59 L296.61 164.14 L296.83 164.70 L297.05 165.26 L297.28 165.81 L297.51 166.37 L297.74 166.92 L297.97 167.48 L298.20 168.03 L298.43 168.58 L298.67 169.13 L298.91 169.68 L299.15 170.23 L299.39 170.78 L299.64 171.33 L299.88 171.88 L300.13 172.42 L300.38 172.97 L300.64 173.51 L300.89 174.06 L301.15 174.60 L301.40 175.14 L301.66 175.68 L301.93 176.22 L302.19 176.76 L302.46 177.30 L302.72 177.84 L302.99 178.37 L303.27 178.91 L303.54 179.44 L303.82 179.97 L304.09 180.50 L304.37 181.03 L304.66 181.56 L304.94 182.09 L305.23 182.62 L305.52 183.14 L305.81 183.67 L306.10 184.19 L306.40 184.71 L306.70 185.23 L307.00 185.75 L307.30 186.27 L307.61 186.78 L307.92 187.30 L308.23 187.81 L308.55 188.32 L308.86 188.83 L309.18 189.34 L309.50 189.85 L309.83 190.35 L310.16 190.85 L310.49 191.35 L310.82 191.85 L311.16 192.35 L311.50 192.85 L311.84 193.34 L312.18 193.83 L312.53 194.32 L312.88 194.80 L313.24 195.29 L313.60 195.77 L313.96 196.25 L314.32 196.72 L314.69 197.20 L315.06 197.67 L315.44 198.14 L315.82 198.60 L316.20 199.06 L316.59 199.52 L316.98 199.98 L317.37 200.43 L317.77 200.88 L318.17 201.32 L318.58 201.77 L318.99 202.21 L319.40 202.64 L319.81 203.08 L320.23 203.51 L320.65 203.94 L321.07 204.36 L321.50 204.78 L321.93 205.20 L322.36 205.62 L322.80 206.03 L323.24 206.44 L323.68 206.84 L324.13 207.24 L324.58 207.64 L325.03 208.04 L325.48 208.43 L325.94 208.82 L326.40 209.20 L326.86 209.59 L327.33 209.97 L327.79 210.34 L328.26 210.71 L328.74 211.08 L329.21 211.45 L329.69 211.81 L330.18 212.16 L330.66 212.52 L331.15 212.87 L331.64 213.22 L332.13 213.56 L332.62 213.90 L333.12 214.24 L333.62 214.57 L334.12 214.90 L334.62 215.23 L335.13 215.55 L335.64 215.87 L336.15 216.18 L336.66 216.49 L337.17 216.80 L337.69 217.11 L338.21 217.41 L338.73 217.71 L339.25 218.00 L339.78 218.30 L340.30 218.58 L340.83 218.87 L341.36 219.15 L341.89 219.43 L342.43 219.70 L342.96 219.97 L343.50 220.24 L344.04 220.51 L344.58 220.77 L345.12 221.03 L345.66 221.29 L346.20 221.54 L346.75 221.79 L347.30 222.03 L347.84 222.28 L348.39 222.52 L348.95 222.76 L349.50 222.99 L350.05 223.22 L350.61 223.45 L351.16 223.67 L351.72 223.89 L352.29 224.10 L352.85 224.30 L353.41 224.50 L353.98 224.70 L354.55 224.89 L355.12 225.08 L355.69 225.26 L356.26 225.44 L356.84 225.61 L357.41 225.79 L357.99 225.96 L358.57 226.12 L359.14 226.28 L359.72 226.44 L360.30 226.60 L360.88 226.76 L361.46 226.91 L362.04 227.07 L362.62 227.22 L363.20 227.37 L363.78 227.52 L364.36 227.67 L364.94 227.82 L365.52 227.97 L366.10 228.12 L366.68 228.28 L367.26 228.43 L367.84 228.58 L368.42 228.74 L369.00 228.89 L369.59 229.04 L370.17 229.19 L370.75 229.34 L371.33 229.48 L371.91 229.63 L372.50 229.77 L373.08 229.91 L373.66 230.05 L374.25 230.18 L374.83 230.32 L375.42 230.45 L376.00 230.58 L376.59 230.71 L377.17 230.84 L377.76 230.97 L378.35 231.10 L378.93 231.22 L379.52 231.34 L380.11 231.46 L380.70 231.58 L381.28 231.70 L381.87 231.82 L382.46 231.94 L383.05 232.05 L383.64 232.16 L384.23 232.27 L384.82 232.38 L385.41 232.49 L386.00 232.60 L386.59 232.71 L387.18 232.81 L387.77 232.92 L388.36 233.02 L388.95 233.12 L389.55 233.22 L390.14 233.32 L390.73 233.42 L391.00 233.47" stroke="#ff0000" stroke-width="3.2"/>
<path d="M60.40 234.90 L60.99 234.82 L61.59 234.74 L62.18 234.66 L62.78 234.58 L63.37 234.50 L63.97 234.42 L64.56 234.33 L65.16 234.25 L65.75 234.16 L66.34 234.08 L66.94 233.99 L67.53 233.90 L68.12 233.81 L68.72 233.72 L69.31 233.63 L69.90 233.54 L70.49 233.44 L71.09 233.35 L71.68 233.25 L72.27 233.16 L72.86 233.06 L73.46 232.96 L74.05 232.86 L74.64 232.76 L75.23 232.66 L75.82 232.55 L76.41 232.45 L77.00 232.34 L77.59 232.24 L78.18 232.13 L78.77 232.02 L79.36 231.91 L79.95 231.79 L80.54 231.68 L81.13 231.57 L81.72 231.45 L82.31 231.33 L82.89 231.21 L83.48 231.09 L84.07 230.97 L84.66 230.85 L85.24 230.72 L85.83 230.60 L86.42 230.47 L87.00 230.34 L87.59 230.21 L88.17 230.08 L88.76 229.95 L89.34 229.81 L89.93 229.67 L90.51 229.53 L91.09 229.39 L91.68 229.25 L92.26 229.11 L92.84 228.96 L93.42 228.81 L94.01 228.67 L94.59 228.51 L95.17 228.36 L95.75 228.21 L96.32 228.05 L96.90 227.89 L97.48 227.73 L98.06 227.57 L98.64 227.40 L99.21 227.24 L99.79 227.07 L100.36 226.90 L100.94 226.72 L101.51 226.55 L102.08 226.37 L102.66 226.19 L103.23 226.01 L103.80 225.82 L104.37 225.64 L104.94 225.45 L105.51 225.26 L106.08 225.06 L106.64 224.86 L107.21 224.67 L107.77 224.46 L108.34 224.26 L108.90 224.05 L109.46 223.84 L110.02 223.63 L110.58 223.42 L111.14 223.20 L111.70 222.98 L112.26 222.76 L112.81 222.53 L113.37 222.30 L113.92 222.07 L114.48 221.84 L115.03 221.60 L115.58 221.36 L116.12 221.12 L116.67 220.87 L117.22 220.62 L117.76 220.37 L118.30 220.11 L118.85 219.85 L119.39 219.59 L119.92 219.32 L120.46 219.06 L120.99 218.78 L121.53 218.51 L122.06 218.23 L122.59 217.95 L123.12 217.66 L123.64 217.38 L124.17 217.08 L124.69 216.79 L125.21 216.49 L125.73 216.19 L126.25 215.88 L126.76 215.57 L127.27 215.26 L127.78 214.94 L128.29 214.62 L128.79 214.30 L129.30 213.97 L129.80 213.64 L130.30 213.31 L130.79 212.97 L131.29 212.63 L131.78 212.29 L132.27 211.94 L132.75 211.59 L133.24 211.23 L133.72 210.87 L134.20 210.51 L134.67 210.15 L135.14 209.78 L135.61 209.40 L136.08 209.03 L136.55 208.65 L137.01 208.26 L137.47 207.88 L137.92 207.49 L138.37 207.09 L138.82 206.70 L139.27 206.29 L139.71 205.89 L140.16 205.48 L140.59 205.07 L141.03 204.66 L141.46 204.24 L141.89 203.82 L142.31 203.40 L142.74 202.97 L143.15 202.54 L143.57 202.11 L143.98 201.68 L144.39 201.24 L144.80 200.80 L145.20 200.35 L145.60 199.90 L146.00 199.45 L146.39 199.00 L146.78 198.55 L147.17 198.09 L147.55 197.63 L147.94 197.16 L148.31 196.70 L148.69 196.23 L149.06 195.76 L149.43 195.28 L149.79 194.81 L150.16 194.33 L150.51 193.85 L150.87 193.37 L151.22 192.88 L151.57 192.39 L151.92 191.90 L152.26 191.41 L152.60 190.92 L152.94 190.42 L153.28 189.92 L153.61 189.42 L153.94 188.92 L154.26 188.42 L154.58 187.91 L154.90 187.40 L155.21 186.89 L155.53 186.38 L155.83 185.86 L156.14 185.35 L156.44 184.83 L156.74 184.31 L157.03 183.78 L157.33 183.26 L157.62 182.73 L157.90 182.21 L158.18 181.68 L158.46 181.15 L158.74 180.61 L159.02 180.08 L159.29 179.55 L159.55 179.01 L159.82 178.47 L160.08 177.93 L160.34 177.39 L160.60 176.85 L160.86 176.31 L161.11 175.76 L161.36 175.22 L161.61 174.67 L161.85 174.12 L162.09 173.57 L162.33 173.02 L162.57 172.47 L162.81 171.92 L163.04 171.37 L163.27 170.82 L163.50 170.26 L163.73 169.71 L163.96 169.15 L164.18 168.59 L164.40 168.04 L164.62 167.48 L164.84 166.92 L165.06 166.36 L165.27 165.80 L165.48 165.24 L165.70 164.68 L165.91 164.11 L166.11 163.55 L166.32 162.99 L166.53 162.43 L166.73 161.86 L166.94 161.30 L167.14 160.73 L167.34 160.17 L167.54 159.60 L167.74 159.03 L167.94 158.47 L168.13 157.90 L168.33 157.33 L168.52 156.77 L168.72 156.20 L168.91 155.63 L169.11 155.06 L169.30 154.50 L169.49 153.93 L169.68 153.36 L169.87 152.79 L170.06 152.22 L170.25 151.65 L170.44 151.08 L170.63 150.51 L170.82 149.94 L171.01 149.37 L171.20 148.80 L171.38 148.23 L171.57 147.66 L171.75 147.09 L171.93 146.52 L172.12 145.95 L172.30 145.38 L172.48 144.80 L172.66 144.23 L172.84 143.66 L173.01 143.09 L173.19 142.51 L173.37 141.94 L173.54 141.36 L173.71 140.79 L173.89 140.22 L174.06 139.64 L174.23 139.07 L174.40 138.49 L174.57 137.92 L174.74 137.34 L174.91 136.76 L175.08 136.19 L175.25 135.61 L175.41 135.04 L175.58 134.46 L175.75 133.88 L175.91 133.31 L176.08 132.73 L176.24 132.15 L176.40 131.57 L176.57 131.00 L176.73 130.42 L176.89 129.84 L177.05 129.26 L177.21 128.69 L177.37 128.11 L177.53 127.53 L177.69 126.95 L177.85 126.37 L178.01 125.79 L178.17 125.21 L178.33 124.64 L178.48 124.06 L178.64 123.48 L178.80 122.90 L178.95 122.32 L179.11 121.74 L179.27 121.16 L179.42 120.58 L179.58 120.00 L179.74 119.42 L179.89 118.84 L180.05 118.26 L180.20 117.68 L180.36 117.10 L180.51 116.53 L180.67 115.95 L180.82 115.37 L180.98 114.79 L181.13 114.21 L181.29 113.63 L181.44 113.05 L181.60 112.47 L181.75 111.89 L181.91 111.31 L182.06 110.73 L182.22 110.15 L182.38 109.57 L182.53 108.99 L182.69 108.41 L182.85 107.83 L183.00 107.25 L183.16 106.68 L183.32 106.10 L183.48 105.52 L183.64 104.94 L183.80 104.36 L183.96 103.78 L184.12 103.20 L184.28 102.63 L184.44 102.05 L184.61 101.47 L184.77 100.90 L184.94 100.32 L185.10 99.74 L185.27 99.17 L185.44 98.59 L185.61 98.01 L185.78 97.44 L185.95 96.87 L186.13 96.29 L186.30 95.72 L186.48 95.14 L186.66 94.57 L186.84 94.00 L187.03 93.43 L187.22 92.86 L187.41 92.29 L187.60 91.72 L187.79 91.16 L187.99 90.59 L188.20 90.03 L188.41 89.46 L188.62 88.90 L188.84 88.34 L189.06 87.78 L189.29 87.23 L189.53 86.68 L189.77 86.13 L190.03 85.59 L190.30 85.05 L190.58 84.53 L190.89 84.01 L191.22 83.51 L191.57 83.02 L191.96 82.56 L192.38 82.14 L192.85 81.77 L193.37 81.47 L193.94 81.28 L194.53 81.25 L195.12 81.38 L195.65 81.64 L196.13 82.01 L196.55 82.43 L196.93 82.90 L197.27 83.40 L197.57 83.91 L197.86 84.44 L198.12 84.98 L198.36 85.53 L198.59 86.09 L198.80 86.65 L199.00 87.21 L199.19 87.78 L199.38 88.35 L199.56 88.92 L199.73 89.50 L199.90 90.07 L200.06 90.65 L200.22 91.23 L200.37 91.81 L200.52 92.39 L200.67 92.97 L200.81 93.56 L200.95 94.14 L201.09 94.72 L201.22 95.31 L201.36 95.89 L201.49 96.48 L201.61 97.07 L201.74 97.65 L201.86 98.24 L201.98 98.83 L202.10 99.42 L202.22 100.00 L202.34 100.59 L202.45 101.18 L202.56 101.77 L202.67 102.36 L202.78 102.95 L202.89 103.54 L203.00 104.13 L203.11 104.72 L203.21 105.31 L203.32 105.90 L203.42 106.49 L203.52 107.09 L203.62 107.68 L203.72 108.27 L203.82 108.86 L203.92 109.45 L204.02 110.04 L204.11 110.64 L204.21 111.23 L204.30 111.82 L204.40 112.41 L204.49 113.01 L204.58 113.60 L204.67 114.19 L204.76 114.79 L204.85 115.38 L204.94 115.97 L205.03 116.57 L205.12 117.16 L205.21 117.75 L205.29 118.35 L205.38 118.94 L205.46 119.53 L205.55 120.13 L205.63 120.72 L205.72 121.32 L205.80 121.91 L205.88 122.50 L205.97 123.10 L206.05 123.69 L206.13 124.29 L206.21 124.88 L206.29 125.48 L206.37 126.07 L206.45 126.67 L206.53 127.26 L206.61 127.86 L206.68 128.45 L206.76 129.05 L206.84 129.64 L206.92 130.24 L206.99 130.83 L207.07 131.43 L207.14 132.02 L207.22 132.62 L207.29 133.21 L207.37 133.81 L207.44 134.40 L207.51 135.00 L207.59 135.59 L207.66 136.19 L207.73 136.79 L207.80 137.38 L207.88 137.98 L207.95 138.57 L208.02 139.17 L208.09 139.76 L208.16 140.36 L208.23 140.96 L208.30 141.55 L208.37 142.15 L208.44 142.74 L208.50 143.34 L208.57 143.94 L208.64 144.53 L208.71 145.13 L208.78 145.72 L208.84 146.32 L208.91 146.92 L208.98 147.51 L209.04 148.11 L209.11 148.71 L209.17 149.30 L209.24 149.90 L209.30 150.50 L209.37 151.09 L209.43 151.69 L209.49 152.29 L209.56 152.88 L209.62 153.48 L209.68 154.08 L209.75 154.67 L209.81 155.27 L209.87 155.87 L209.93 156.46 L210.00 157.06 L210.06 157.66 L210.12 158.25 L210.18 158.85 L210.24 159.45 L210.30 160.04 L210.36 160.64 L210.42 161.24 L210.48 161.83 L210.54 162.43 L210.60 163.03 L210.66 163.63 L210.71 164.22 L210.77 164.82 L210.83 165.42 L210.89 166.01 L210.95 166.61 L211.00 167.21 L211.06 167.81 L211.12 168.40 L211.17 169.00 L211.23 169.60 L211.29 170.20 L211.34 170.79 L211.40 171.39 L211.45 171.99 L211.51 172.59 L211.56 173.18 L211.62 173.78 L211.67 174.38 L211.73 174.98 L211.78 175.57 L211.84 176.17 L211.89 176.77 L211.95 177.37 L212.00 177.96 L212.05 178.56 L212.11 179.16 L212.16 179.76 L212.21 180.35 L212.27 180.95 L212.32 181.55 L212.37 182.15 L212.42 182.74 L212.48 183.34 L212.53 183.94 L212.58 184.54 L212.63 185.14 L212.69 185.73 L212.74 186.33 L212.79 186.93 L212.84 187.53 L212.89 188.12 L212.94 188.72 L213.00 189.32 L213.05 189.92 L213.10 190.52 L213.15 191.11 L213.20 191.71 L213.25 192.31 L213.30 192.91 L213.35 193.50 L213.41 194.10 L213.46 194.70 L213.51 195.30 L213.56 195.90 L213.61 196.49 L213.66 197.09 L213.71 197.69 L213.76 198.29 L213.82 198.88 L213.87 199.48 L213.92 200.08 L213.97 200.68 L214.02 201.28 L214.08 201.87 L214.13 202.47 L214.18 203.07 L214.24 203.67 L214.29 204.26 L214.34 204.86 L214.40 205.46 L214.45 206.06 L214.51 206.65 L214.56 207.25 L214.62 207.85 L214.67 208.45 L214.73 209.04 L214.79 209.64 L214.85 210.24 L214.91 210.83 L214.97 211.43 L215.03 212.03 L215.09 212.62 L215.16 213.22 L215.22 213.82 L215.29 214.41 L215.36 215.01 L215.44 215.61 L215.51 216.20 L215.59 216.79 L215.68 217.39 L215.77 217.98 L215.87 218.57 L215.98 219.16 L216.12 219.75 L216.31 220.32 L216.71 220.50 L216.92 219.94 L217.05 219.36 L217.15 218.76 L217.23 218.17 L217.31 217.57 L217.38 216.98 L217.44 216.38 L217.50 215.78 L217.55 215.19 L217.60 214.59 L217.65 213.99 L217.70 213.39 L217.74 212.79 L217.78 212.20 L217.82 211.60 L217.86 211.00 L217.90 210.40 L217.94 209.80 L217.98 209.20 L218.01 208.60 L218.05 208.00 L218.08 207.41 L218.11 206.81 L218.15 206.21 L218.18 205.61 L218.21 205.01 L218.24 204.41 L218.27 203.81 L218.30 203.21 L218.33 202.61 L218.36 202.01 L218.39 201.41 L218.42 200.81 L218.44 200.21 L218.47 199.62 L218.50 199.02 L218.53 198.42 L218.55 197.82 L218.58 197.22 L218.61 196.62 L218.63 196.02 L218.66 195.42 L218.68 194.82 L218.71 194.22 L218.73 193.62 L218.76 193.02 L218.78 192.42 L218.81 191.82 L218.83 191.22 L218.86 190.62 L218.88 190.02 L218.90 189.42 L218.93 188.83 L218.95 188.23 L218.98 187.63 L219.00 187.03 L219.02 186.43 L219.05 185.83 L219.07 185.23 L219.09 184.63 L219.12 184.03 L219.14 183.43 L219.16 182.83 L219.19 182.23 L219.21 181.63 L219.23 181.03 L219.26 180.43 L219.28 179.83 L219.30 179.23 L219.32 178.63 L219.35 178.03 L219.37 177.43 L219.39 176.83 L219.41 176.23 L219.44 175.63 L219.46 175.04 L219.48 174.44 L219.51 173.84 L219.53 173.24 L219.55 172.64 L219.57 172.04 L219.60 171.44 L219.62 170.84 L219.64 170.24 L219.67 169.64 L219.69 169.04 L219.71 168.44 L219.74 167.84 L219.76 167.24 L219.78 166.64 L219.81 166.04 L219.83 165.44 L219.85 164.84 L219.88 164.24 L219.90 163.64 L219.92 163.04 L219.95 162.44 L219.97 161.85 L220.00 161.25 L220.02 160.65 L220.05 160.05 L220.07 159.45 L220.09 158.85 L220.12 158.25 L220.14 157.65 L220.17 157.05 L220.19 156.45 L220.22 155.85 L220.25 155.25 L220.27 154.65 L220.30 154.05 L220.32 153.45 L220.35 152.85 L220.38 152.25 L220.40 151.65 L220.43 151.06 L220.46 150.46 L220.49 149.86 L220.52 149.26 L220.54 148.66 L220.57 148.06 L220.60 147.46 L220.63 146.86 L220.66 146.26 L220.69 145.66 L220.72 145.06 L220.75 144.46 L220.78 143.86 L220.82 143.26 L220.85 142.67 L220.88 142.07 L220.91 141.47 L220.95 140.87 L220.98 140.27 L221.02 139.67 L221.06 139.07 L221.09 138.47 L221.13 137.87 L221.17 137.27 L221.21 136.68 L221.25 136.08 L221.29 135.48 L221.33 134.88 L221.38 134.28 L221.42 133.68 L221.47 133.09 L221.52 132.49 L221.57 131.89 L221.62 131.29 L221.68 130.69 L221.74 130.10 L221.80 129.50 L221.86 128.90 L221.93 128.31 L222.01 127.71 L222.09 127.12 L222.18 126.53 L222.29 125.94 L222.42 125.35 L222.58 124.77 L222.87 124.25 L223.30 124.53 L223.51 125.09 L223.66 125.67 L223.79 126.26 L223.91 126.85 L224.01 127.44 L224.11 128.03 L224.20 128.62 L224.28 129.22 L224.37 129.81 L224.44 130.41 L224.52 131.00 L224.59 131.60 L224.66 132.19 L224.73 132.79 L224.79 133.39 L224.85 133.98 L224.92 134.58 L224.98 135.18 L225.04 135.77 L225.10 136.37 L225.15 136.97 L225.21 137.57 L225.26 138.16 L225.32 138.76 L225.37 139.36 L225.43 139.96 L225.48 140.55 L225.53 141.15 L225.58 141.75 L225.63 142.35 L225.68 142.95 L225.73 143.54 L225.78 144.14 L225.83 144.74 L225.87 145.34 L225.92 145.94 L225.97 146.53 L226.02 147.13 L226.06 147.73 L226.11 148.33 L226.15 148.93 L226.20 149.53 L226.24 150.12 L226.29 150.72 L226.33 151.32 L226.38 151.92 L226.42 152.52 L226.46 153.12 L226.51 153.71 L226.55 154.31 L226.59 154.91 L226.64 155.51 L226.68 156.11 L226.72 156.71 L226.76 157.31 L226.81 157.90 L226.85 158.50 L226.89 159.10 L226.93 159.70 L226.97 160.30 L227.01 160.90 L227.06 161.49 L227.10 162.09 L227.14 162.69 L227.18 163.29 L227.22 163.89 L227.26 164.49 L227.30 165.09 L227.34 165.69 L227.38 166.28 L227.42 166.88 L227.46 167.48 L227.50 168.08 L227.54 168.68 L227.58 169.28 L227.62 169.88 L227.67 170.47 L227.71 171.07 L227.75 171.67 L227.79 172.27 L227.83 172.87 L227.87 173.47 L227.91 174.07 L227.95 174.66 L227.99 175.26 L228.03 175.86 L228.07 176.46 L228.11 177.06 L228.15 177.66 L228.19 178.26 L228.23 178.85 L228.27 179.45 L228.32 180.05 L228.36 180.65 L228.40 181.25 L228.44 181.85 L228.48 182.45 L228.52 183.04 L228.56 183.64 L228.61 184.24 L228.65 184.84 L228.69 185.44 L228.73 186.04 L228.78 186.64 L228.82 187.23 L228.86 187.83 L228.91 188.43 L228.95 189.03 L228.99 189.63 L229.04 190.23 L229.08 190.82 L229.13 191.42 L229.17 192.02 L229.22 192.62 L229.26 193.22 L229.31 193.82 L229.35 194.41 L229.40 195.01 L229.45 195.61 L229.49 196.21 L229.54 196.81 L229.59 197.41 L229.64 198.00 L229.69 198.60 L229.74 199.20 L229.79 199.80 L229.84 200.39 L229.89 200.99 L229.94 201.59 L230.00 202.19 L230.05 202.79 L230.10 203.38 L230.16 203.98 L230.22 204.58 L230.27 205.18 L230.33 205.77 L230.39 206.37 L230.45 206.97 L230.51 207.56 L230.57 208.16 L230.64 208.76 L230.70 209.35 L230.77 209.95 L230.84 210.55 L230.91 211.14 L230.98 211.74 L231.06 212.33 L231.14 212.93 L231.22 213.52 L231.30 214.12 L231.39 214.71 L231.49 215.30 L231.59 215.89 L231.69 216.48 L231.80 217.07 L231.93 217.66 L232.06 218.25 L232.21 218.83 L232.39 219.40 L232.62 219.95 L232.95 220.45 L233.49 220.43 L233.82 219.93 L234.06 219.38 L234.24 218.81 L234.41 218.23 L234.55 217.65 L234.69 217.07 L234.81 216.48 L234.92 215.89 L235.03 215.30 L235.14 214.71 L235.24 214.12 L235.33 213.52 L235.43 212.93 L235.51 212.34 L235.60 211.74 L235.68 211.15 L235.76 210.56 L235.84 209.96 L235.92 209.37 L236.00 208.77 L236.07 208.18 L236.14 207.58 L236.21 206.98 L236.28 206.39 L236.35 205.79 L236.42 205.20 L236.49 204.60 L236.55 204.00 L236.61 203.41 L236.68 202.81 L236.74 202.21 L236.80 201.62 L236.86 201.02 L236.92 200.42 L236.98 199.83 L237.04 199.23 L237.10 198.63 L237.15 198.03 L237.21 197.44 L237.26 196.84 L237.32 196.24 L237.37 195.64 L237.43 195.05 L237.48 194.45 L237.53 193.85 L237.59 193.25 L237.64 192.66 L237.69 192.06 L237.74 191.46 L237.79 190.86 L237.84 190.26 L237.89 189.67 L237.94 189.07 L237.99 188.47 L238.04 187.87 L238.09 187.27 L238.13 186.68 L238.18 186.08 L238.23 185.48 L238.28 184.88 L238.32 184.28 L238.37 183.69 L238.42 183.09 L238.46 182.49 L238.51 181.89 L238.55 181.29 L238.60 180.69 L238.64 180.10 L238.69 179.50 L238.73 178.90 L238.77 178.30 L238.82 177.70 L238.86 177.10 L238.91 176.51 L238.95 175.91 L238.99 175.31 L239.03 174.71 L239.08 174.11 L239.12 173.51 L239.16 172.91 L239.20 172.32 L239.25 171.72 L239.29 171.12 L239.33 170.52 L239.37 169.92 L239.41 169.32 L239.46 168.72 L239.50 168.13 L239.54 167.53 L239.58 166.93 L239.62 166.33 L239.66 165.73 L239.70 165.13 L239.74 164.53 L239.78 163.94 L239.82 163.34 L239.87 162.74 L239.91 162.14 L239.95 161.54 L239.99 160.94 L240.03 160.34 L240.07 159.75 L240.11 159.15 L240.15 158.55 L240.19 157.95 L240.23 157.35 L240.27 156.75 L240.31 156.15 L240.36 155.56 L240.40 154.96 L240.44 154.36 L240.48 153.76 L240.52 153.16 L240.56 152.56 L240.61 151.96 L240.65 151.37 L240.69 150.77 L240.73 150.17 L240.78 149.57 L240.82 148.97 L240.86 148.37 L240.91 147.78 L240.95 147.18 L241.00 146.58 L241.05 145.98 L241.09 145.38 L241.14 144.78 L241.19 144.19 L241.24 143.59 L241.29 142.99 L241.34 142.39 L241.39 141.79 L241.45 141.20 L241.51 140.60 L241.56 140.00 L241.63 139.41 L241.69 138.81 L241.76 138.21 L241.83 137.62 L241.92 137.02 L242.01 136.43 L242.12 135.84 L242.26 135.26 L242.41 135.08 L242.46 135.68 L242.49 136.28 L242.52 136.88 L242.54 137.48 L242.56 138.08 L242.58 138.68 L242.59 139.28 L242.63 139.88 L242.67 140.48 L242.72 141.07 L242.76 141.67 L242.80 142.27 L242.84 142.87 L242.88 143.47 L242.92 144.07 L242.95 144.67 L242.98 145.27 L243.02 145.86 L243.05 146.46 L243.08 147.06 L243.11 147.66 L243.14 148.26 L243.17 148.86 L243.20 149.46 L243.23 150.06 L243.26 150.66 L243.28 151.26 L243.31 151.86 L243.34 152.46 L243.36 153.06 L243.39 153.66 L243.42 154.25 L243.44 154.85 L243.46 155.45 L243.49 156.05 L243.51 156.65 L243.54 157.25 L243.56 157.85 L243.58 158.45 L243.61 159.05 L243.63 159.65 L243.65 160.25 L243.67 160.85 L243.70 161.45 L243.72 162.05 L243.74 162.65 L243.76 163.25 L243.78 163.85 L243.80 164.45 L243.83 165.05 L243.85 165.65 L243.87 166.25 L243.89 166.85 L243.91 167.45 L243.93 168.05 L243.95 168.64 L243.97 169.24 L243.99 169.84 L244.01 170.44 L244.03 171.04 L244.05 171.64 L244.07 172.24 L244.09 172.84 L244.11 173.44 L244.12 174.04 L244.14 174.64 L244.16 175.24 L244.18 175.84 L244.20 176.44 L244.22 177.04 L244.24 177.64 L244.26 178.24 L244.27 178.84 L244.29 179.44 L244.31 180.04 L244.33 180.64 L244.35 181.24 L244.37 181.84 L244.38 182.44 L244.40 183.04 L244.42 183.64 L244.44 184.24 L244.46 184.84 L244.47 185.44 L244.49 186.04 L244.51 186.64 L244.53 187.24 L244.54 187.84 L244.56 188.44 L244.58 189.04 L244.60 189.63 L244.62 190.23 L244.63 190.83 L244.65 191.43 L244.67 192.03 L244.69 192.63 L244.70 193.23 L244.72 193.83 L244.74 194.43 L244.76 195.03 L244.78 195.63 L244.79 196.23 L244.81 196.83 L244.83 197.43 L244.85 198.03 L244.86 198.63 L244.88 199.23 L244.90 199.83 L244.92 200.43 L244.94 201.03 L244.96 201.63 L244.97 202.23 L244.99 202.83 L245.01 203.43 L245.03 204.03 L245.05 204.63 L245.07 205.23 L245.09 205.83 L245.11 206.43 L245.13 207.03 L245.15 207.63 L245.17 208.23 L245.19 208.83 L245.21 209.43 L245.24 210.02 L245.30 210.62 L245.36 211.22 L245.42 211.82 L245.50 212.41 L245.58 213.01 L245.65 213.60 L245.73 214.20 L245.80 214.79 L245.87 215.39 L245.95 215.98 L246.02 216.58 L246.09 217.17 L246.16 217.77 L246.24 218.36 L246.32 218.96 L246.40 219.55 L246.49 220.15 L246.66 220.72 L246.90 220.25 L247.02 219.66 L247.12 219.07 L247.22 218.48 L247.32 217.88 L247.41 217.29 L247.49 216.70 L247.57 216.10 L247.65 215.51 L247.73 214.91 L247.81 214.32 L247.89 213.72 L247.97 213.13 L248.04 212.53 L248.12 211.94 L248.20 211.34 L248.28 210.75 L248.37 210.16 L248.43 209.56 L248.48 208.96 L248.54 208.36 L248.60 207.77 L248.66 207.17 L248.72 206.57 L248.78 205.98 L248.85 205.38 L248.91 204.78 L248.98 204.19 L249.04 203.59 L249.11 202.99 L249.18 202.40 L249.25 201.80 L249.33 201.21 L249.40 200.61 L249.47 200.02 L249.55 199.42 L249.62 198.83 L249.70 198.23 L249.77 197.64 L249.85 197.04 L249.93 196.45 L250.01 195.85 L250.09 195.26 L250.16 194.66 L250.24 194.07 L250.32 193.47 L250.40 192.88 L250.48 192.28 L250.56 191.69 L250.64 191.09 L250.72 190.50 L250.80 189.90 L250.88 189.31 L250.95 188.71 L251.03 188.12 L251.11 187.52 L251.19 186.93 L251.27 186.33 L251.34 185.74 L251.42 185.14 L251.48 184.55 L251.52 183.95 L251.57 183.35 L251.61 182.75 L251.65 182.15 L251.70 181.55 L251.74 180.96 L251.79 180.36 L251.84 179.76 L251.89 179.16 L251.94 178.56 L252.00 177.97 L252.05 177.37 L252.11 176.77 L252.17 176.18 L252.22 175.58 L252.28 174.98 L252.35 174.38 L252.41 173.79 L252.47 173.19 L252.54 172.59 L252.61 172.00 L252.68 171.40 L252.75 170.81 L252.82 170.21 L252.89 169.62 L252.96 169.02 L253.04 168.42 L253.11 167.83 L253.19 167.23 L253.26 166.64 L253.33 166.04 L253.41 165.45 L253.48 164.85 L253.55 164.26 L253.63 163.66 L253.70 163.07 L253.77 162.47 L253.85 161.87 L253.92 161.28 L253.99 160.68 L254.07 160.09 L254.14 159.49 L254.22 158.90 L254.29 158.30 L254.36 157.71 L254.44 157.11 L254.51 156.52 L254.58 155.92 L254.66 155.32 L254.73 154.73 L254.81 154.13 L254.88 153.54 L254.96 152.94 L255.03 152.35 L255.10 151.75 L255.18 151.16 L255.25 150.56 L255.33 149.97 L255.40 149.37 L255.48 148.78 L255.55 148.18 L255.63 147.58 L255.70 146.99 L255.78 146.39 L255.85 145.80 L255.93 145.20 L256.00 144.61 L256.08 144.01 L256.16 143.42 L256.23 142.82 L256.31 142.23 L256.39 141.63 L256.46 141.04 L256.54 140.44 L256.62 139.85 L256.69 139.25 L256.77 138.66 L256.85 138.06 L256.93 137.47 L257.00 136.87 L257.08 136.28 L257.16 135.68 L257.24 135.09 L257.32 134.49 L257.40 133.90 L257.48 133.30 L257.56 132.71 L257.64 132.11 L257.72 131.52 L257.80 130.93 L257.88 130.33 L257.96 129.74 L258.04 129.14 L258.12 128.55 L258.21 127.95 L258.29 127.36 L258.37 126.76 L258.46 126.17 L258.54 125.58 L258.62 124.98 L258.71 124.39 L258.79 123.79 L258.88 123.20 L258.96 122.61 L259.05 122.01 L259.14 121.42 L259.22 120.83 L259.31 120.23 L259.40 119.64 L259.49 119.05 L259.58 118.45 L259.67 117.86 L259.76 117.27 L259.85 116.67 L259.94 116.08 L260.03 115.49 L260.12 114.89 L260.22 114.30 L260.31 113.71 L260.40 113.12 L260.50 112.52 L260.59 111.93 L260.69 111.34 L260.79 110.75 L260.89 110.15 L260.99 109.56 L261.09 108.97 L261.19 108.38 L261.29 107.79 L261.39 107.20 L261.49 106.61 L261.60 106.02 L261.70 105.42 L261.81 104.83 L261.92 104.24 L262.03 103.65 L262.14 103.06 L262.25 102.48 L262.37 101.89 L262.48 101.30 L262.60 100.71 L262.71 100.12 L262.83 99.53 L262.95 98.94 L263.08 98.36 L263.20 97.77 L263.33 97.18 L263.46 96.60 L263.59 96.01 L263.72 95.43 L263.86 94.84 L264.00 94.26 L264.14 93.68 L264.29 93.09 L264.44 92.51 L264.59 91.93 L264.74 91.35 L264.90 90.78 L265.07 90.20 L265.24 89.62 L265.41 89.05 L265.59 88.48 L265.78 87.91 L265.98 87.34 L266.18 86.78 L266.39 86.21 L266.62 85.66 L266.85 85.11 L267.10 84.56 L267.37 84.02 L267.66 83.50 L267.97 82.98 L268.31 82.49 L268.70 82.03 L269.14 81.62 L269.64 81.30 L270.20 81.11 L270.80 81.11 L271.37 81.29 L271.88 81.60 L272.34 81.99 L272.75 82.43 L273.13 82.89 L273.48 83.38 L273.80 83.89 L274.11 84.40 L274.40 84.92 L274.68 85.46 L274.95 85.99 L275.21 86.53 L275.46 87.08 L275.70 87.63 L275.94 88.18 L276.17 88.73 L276.40 89.29 L276.62 89.85 L276.83 90.41 L277.05 90.97 L277.25 91.53 L277.46 92.09 L277.66 92.66 L277.86 93.22 L278.06 93.79 L278.25 94.36 L278.44 94.93 L278.63 95.50 L278.82 96.07 L279.01 96.64 L279.19 97.21 L279.38 97.78 L279.56 98.35 L279.74 98.92 L279.92 99.50 L280.10 100.07 L280.27 100.64 L280.45 101.22 L280.62 101.79 L280.80 102.36 L280.97 102.94 L281.14 103.51 L281.32 104.09 L281.49 104.66 L281.66 105.24 L281.83 105.81 L282.00 106.39 L282.16 106.96 L282.33 107.54 L282.50 108.12 L282.67 108.69 L282.84 109.27 L283.00 109.85 L283.17 110.42 L283.34 111.00 L283.50 111.57 L283.67 112.15 L283.83 112.73 L284.00 113.30 L284.17 113.88 L284.33 114.46 L284.50 115.03 L284.66 115.61 L284.83 116.19 L285.00 116.76 L285.16 117.34 L285.33 117.92 L285.49 118.49 L285.66 119.07 L285.83 119.65 L285.99 120.22 L286.16 120.80 L286.33 121.38 L286.49 121.95 L286.66 122.53 L286.83 123.11 L286.99 123.68 L287.16 124.26 L287.33 124.83 L287.50 125.41 L287.67 125.98 L287.84 126.56 L288.01 127.14 L288.18 127.71 L288.35 128.29 L288.52 128.86 L288.69 129.44 L288.87 130.01 L289.04 130.59 L289.21 131.16 L289.38 131.73 L289.56 132.31 L289.73 132.88 L289.91 133.46 L290.08 134.03 L290.26 134.60 L290.44 135.18 L290.62 135.75 L290.79 136.32 L290.97 136.89 L291.15 137.47 L291.33 138.04 L291.52 138.61 L291.70 139.18 L291.88 139.75 L292.06 140.33 L292.25 140.90 L292.43 141.47 L292.62 142.04 L292.81 142.61 L292.99 143.18 L293.18 143.75 L293.37 144.32 L293.56 144.89 L293.75 145.45 L293.94 146.02 L294.14 146.59 L294.33 147.16 L294.53 147.73 L294.72 148.29 L294.92 148.86 L295.12 149.43 L295.32 149.99 L295.52 150.56 L295.72 151.12 L295.92 151.69 L296.13 152.25 L296.33 152.82 L296.54 153.38 L296.74 153.94 L296.95 154.51 L297.16 155.07 L297.37 155.63 L297.58 156.19 L297.80 156.75 L298.01 157.31 L298.23 157.87 L298.45 158.43 L298.66 158.99 L298.88 159.55 L299.10 160.11 L299.32 160.66 L299.55 161.22 L299.77 161.78 L299.99 162.33 L300.22 162.89 L300.45 163.45 L300.68 164.00 L300.91 164.56 L301.14 165.11 L301.37 165.66 L301.60 166.22 L301.84 166.77 L302.07 167.32 L302.31 167.87 L302.55 168.42 L302.79 168.97 L303.03 169.52 L303.27 170.07 L303.52 170.62 L303.76 171.16 L304.01 171.71 L304.26 172.26 L304.51 172.80 L304.76 173.35 L305.02 173.89 L305.27 174.43 L305.53 174.97 L305.79 175.52 L306.05 176.06 L306.31 176.60 L306.58 177.13 L306.84 177.67 L307.11 178.21 L307.38 178.74 L307.65 179.28 L307.93 179.81 L308.21 180.34 L308.49 180.87 L308.77 181.40 L309.05 181.93 L309.34 182.46 L309.62 182.99 L309.91 183.51 L310.21 184.04 L310.50 184.56 L310.80 185.08 L311.10 185.60 L311.41 186.12 L311.71 186.63 L312.02 187.15 L312.33 187.66 L312.65 188.17 L312.97 188.68 L313.29 189.18 L313.61 189.69 L313.94 190.19 L314.27 190.69 L314.61 191.19 L314.95 191.68 L315.29 192.17 L315.64 192.66 L315.99 193.15 L316.34 193.63 L316.70 194.12 L317.06 194.60 L317.42 195.07 L317.79 195.55 L318.16 196.02 L318.53 196.49 L318.91 196.96 L319.28 197.43 L319.67 197.89 L320.05 198.35 L320.44 198.81 L320.83 199.27 L321.22 199.72 L321.62 200.17 L322.01 200.62 L322.42 201.07 L322.82 201.51 L323.23 201.95 L323.64 202.38 L324.05 202.82 L324.47 203.25 L324.89 203.68 L325.31 204.10 L325.74 204.53 L326.17 204.95 L326.60 205.36 L327.04 205.78 L327.47 206.19 L327.91 206.59 L328.36 207.00 L328.80 207.40 L329.25 207.80 L329.71 208.19 L330.16 208.58 L330.62 208.97 L331.08 209.35 L331.54 209.74 L332.01 210.11 L332.48 210.49 L332.95 210.86 L333.42 211.23 L333.90 211.59 L334.38 211.95 L334.86 212.31 L335.34 212.67 L335.83 213.02 L336.32 213.36 L336.81 213.71 L337.31 214.05 L337.80 214.38 L338.30 214.72 L338.80 215.05 L339.30 215.38 L339.81 215.70 L340.32 216.02 L340.83 216.34 L341.34 216.65 L341.85 216.96 L342.37 217.26 L342.89 217.57 L343.41 217.87 L343.93 218.16 L344.45 218.46 L344.98 218.75 L345.51 219.03 L346.04 219.31 L346.57 219.58 L347.11 219.85 L347.65 220.11 L348.19 220.37 L348.74 220.61 L349.29 220.86 L349.84 221.10 L350.39 221.33 L350.94 221.56 L351.50 221.78 L352.06 222.00 L352.62 222.21 L353.18 222.42 L353.75 222.62 L354.31 222.82 L354.88 223.02 L355.45 223.21 L356.02 223.40 L356.59 223.58 L357.16 223.77 L357.73 223.95 L358.31 224.12 L358.88 224.30 L359.46 224.47 L360.03 224.64 L360.61 224.81 L361.18 224.98 L361.76 225.15 L362.34 225.32 L362.91 225.48 L363.49 225.65 L364.06 225.81 L364.64 225.98 L365.22 226.15 L365.79 226.31 L366.37 226.48 L366.95 226.65 L367.52 226.82 L368.09 227.00 L368.67 227.17 L369.24 227.34 L369.82 227.51 L370.40 227.67 L370.97 227.84 L371.55 228.00 L372.13 228.16 L372.71 228.32 L373.29 228.47 L373.87 228.63 L374.45 228.78 L375.03 228.93 L375.61 229.08 L376.19 229.23 L376.77 229.37 L377.36 229.52 L377.94 229.66 L378.52 229.80 L379.11 229.94 L379.69 230.07 L380.28 230.21 L380.86 230.34 L381.45 230.47 L382.03 230.60 L382.62 230.73 L383.20 230.86 L383.79 230.99 L384.38 231.11 L384.97 231.23 L385.55 231.35 L386.14 231.47 L386.73 231.59 L387.32 231.71 L387.91 231.83 L388.49 231.94 L389.08 232.05 L389.67 232.17 L390.26 232.28 L390.85 232.39 L391.00 232.41" stroke="#00ff00" stroke-width="3.2"/>
<path d="M60.40 234.26 L60.99 234.18 L61.59 234.09 L62.18 234.01 L62.78 233.92 L63.37 233.83 L63.96 233.74 L64.56 233.65 L65.15 233.56 L65.74 233.47 L66.33 233.38 L66.93 233.28 L67.52 233.19 L68.11 233.09 L68.70 232.99 L69.30 232.90 L69.89 232.80 L70.48 232.70 L71.07 232.59 L71.66 232.49 L72.25 232.39 L72.84 232.28 L73.43 232.17 L74.02 232.07 L74.61 231.96 L75.20 231.85 L75.79 231.73 L76.38 231.62 L76.97 231.51 L77.56 231.39 L78.15 231.27 L78.74 231.16 L79.32 231.04 L79.91 230.91 L80.50 230.79 L81.09 230.67 L81.67 230.54 L82.26 230.41 L82.84 230.28 L83.43 230.15 L84.02 230.02 L84.60 229.89 L85.18 229.75 L85.77 229.62 L86.35 229.48 L86.94 229.34 L87.52 229.20 L88.10 229.05 L88.68 228.91 L89.27 228.76 L89.85 228.61 L90.43 228.46 L91.01 228.31 L91.59 228.15 L92.17 227.99 L92.74 227.83 L93.32 227.67 L93.90 227.51 L94.48 227.35 L95.05 227.18 L95.63 227.01 L96.20 226.84 L96.78 226.67 L97.35 226.49 L97.92 226.31 L98.50 226.13 L99.07 225.95 L99.64 225.76 L100.21 225.58 L100.78 225.39 L101.35 225.19 L101.91 225.00 L102.48 224.80 L103.05 224.60 L103.61 224.40 L104.18 224.20 L104.74 223.99 L105.30 223.78 L105.86 223.57 L106.42 223.35 L106.98 223.13 L107.54 222.91 L108.10 222.69 L108.65 222.46 L109.21 222.23 L109.76 222.00 L110.31 221.76 L110.86 221.52 L111.41 221.28 L111.96 221.04 L112.50 220.79 L113.05 220.54 L113.59 220.29 L114.14 220.03 L114.68 219.77 L115.22 219.51 L115.75 219.24 L116.29 218.97 L116.82 218.70 L117.36 218.42 L117.89 218.14 L118.41 217.86 L118.94 217.57 L119.47 217.28 L119.99 216.99 L120.51 216.69 L121.03 216.39 L121.55 216.08 L122.06 215.78 L122.58 215.47 L123.09 215.15 L123.60 214.83 L124.10 214.51 L124.61 214.19 L125.11 213.86 L125.61 213.53 L126.11 213.19 L126.60 212.85 L127.09 212.51 L127.58 212.16 L128.07 211.81 L128.55 211.46 L129.04 211.10 L129.52 210.74 L129.99 210.37 L130.47 210.01 L130.94 209.64 L131.41 209.26 L131.87 208.88 L132.34 208.50 L132.80 208.12 L133.25 207.73 L133.71 207.33 L134.16 206.94 L134.61 206.54 L135.05 206.14 L135.49 205.73 L135.93 205.32 L136.37 204.91 L136.80 204.50 L137.23 204.08 L137.66 203.66 L138.08 203.23 L138.50 202.80 L138.92 202.37 L139.34 201.94 L139.75 201.50 L140.15 201.06 L140.56 200.62 L140.96 200.17 L141.36 199.73 L141.76 199.28 L142.15 198.82 L142.54 198.37 L142.92 197.91 L143.31 197.44 L143.69 196.98 L144.07 196.51 L144.44 196.04 L144.81 195.57 L145.18 195.10 L145.54 194.62 L145.90 194.14 L146.26 193.66 L146.62 193.18 L146.97 192.69 L147.32 192.21 L147.67 191.72 L148.01 191.23 L148.35 190.73 L148.69 190.24 L149.03 189.74 L149.36 189.24 L149.69 188.74 L150.01 188.23 L150.34 187.73 L150.65 187.22 L150.97 186.71 L151.28 186.20 L151.59 185.68 L151.90 185.17 L152.20 184.65 L152.50 184.13 L152.80 183.61 L153.09 183.08 L153.38 182.56 L153.67 182.03 L153.96 181.51 L154.24 180.98 L154.52 180.45 L154.80 179.91 L155.07 179.38 L155.34 178.84 L155.61 178.31 L155.88 177.77 L156.14 177.23 L156.40 176.69 L156.66 176.15 L156.92 175.61 L157.17 175.06 L157.42 174.52 L157.67 173.97 L157.92 173.43 L158.17 172.88 L158.41 172.33 L158.65 171.78 L158.89 171.23 L159.13 170.68 L159.36 170.13 L159.60 169.58 L159.83 169.02 L160.06 168.47 L160.28 167.91 L160.51 167.36 L160.74 166.80 L160.96 166.24 L161.18 165.69 L161.40 165.13 L161.62 164.57 L161.84 164.01 L162.06 163.45 L162.27 162.89 L162.48 162.33 L162.70 161.77 L162.91 161.21 L163.12 160.65 L163.33 160.09 L163.54 159.52 L163.75 158.96 L163.95 158.40 L164.16 157.83 L164.37 157.27 L164.57 156.71 L164.78 156.14 L164.98 155.58 L165.18 155.01 L165.39 154.45 L165.59 153.88 L165.79 153.32 L165.99 152.75 L166.19 152.19 L166.40 151.62 L166.60 151.06 L166.80 150.49 L167.00 149.93 L167.20 149.36 L167.40 148.80 L167.60 148.23 L167.80 147.66 L167.99 147.10 L168.19 146.53 L168.39 145.96 L168.58 145.40 L168.77 144.83 L168.97 144.26 L169.16 143.69 L169.35 143.12 L169.55 142.55 L169.74 141.99 L169.93 141.42 L170.12 140.85 L170.31 140.28 L170.50 139.71 L170.68 139.14 L170.87 138.57 L171.06 138.00 L171.25 137.43 L171.43 136.86 L171.62 136.29 L171.81 135.72 L171.99 135.15 L172.18 134.58 L172.36 134.01 L172.55 133.44 L172.73 132.87 L172.92 132.29 L173.10 131.72 L173.29 131.15 L173.47 130.58 L173.65 130.01 L173.84 129.44 L174.02 128.87 L174.21 128.30 L174.39 127.73 L174.58 127.16 L174.76 126.58 L174.94 126.01 L175.13 125.44 L175.31 124.87 L175.50 124.30 L175.69 123.73 L175.87 123.16 L176.06 122.59 L176.24 122.02 L176.43 121.45 L176.62 120.88 L176.81 120.31 L177.00 119.74 L177.18 119.17 L177.37 118.60 L177.57 118.03 L177.76 117.46 L177.95 116.90 L178.14 116.33 L178.34 115.76 L178.53 115.19 L178.73 114.63 L178.93 114.06 L179.13 113.49 L179.33 112.93 L179.53 112.36 L179.73 111.80 L179.94 111.24 L180.15 110.67 L180.36 110.11 L180.57 109.55 L180.78 108.99 L181.00 108.43 L181.22 107.87 L181.44 107.31 L181.67 106.76 L181.90 106.20 L182.13 105.65 L182.37 105.10 L182.61 104.55 L182.85 104.00 L183.11 103.46 L183.36 102.92 L183.63 102.38 L183.90 101.84 L184.18 101.31 L184.47 100.79 L184.77 100.27 L185.08 99.76 L185.41 99.26 L185.77 98.77 L186.14 98.30 L186.55 97.86 L186.98 97.45 L187.46 97.08 L187.96 96.76 L188.51 96.52 L189.09 96.36 L189.69 96.33 L190.28 96.41 L190.85 96.60 L191.38 96.89 L191.86 97.24 L192.31 97.64 L192.71 98.08 L193.09 98.55 L193.44 99.04 L193.76 99.55 L194.06 100.07 L194.34 100.59 L194.62 101.13 L194.88 101.67 L195.13 102.21 L195.37 102.76 L195.61 103.31 L195.83 103.87 L196.05 104.43 L196.27 104.99 L196.48 105.55 L196.68 106.11 L196.89 106.68 L197.08 107.25 L197.27 107.81 L197.46 108.38 L197.65 108.95 L197.83 109.53 L198.01 110.10 L198.19 110.67 L198.36 111.25 L198.53 111.82 L198.70 112.40 L198.87 112.97 L199.04 113.55 L199.20 114.13 L199.36 114.70 L199.52 115.28 L199.68 115.86 L199.83 116.44 L199.99 117.02 L200.14 117.60 L200.29 118.18 L200.44 118.76 L200.59 119.34 L200.74 119.93 L200.89 120.51 L201.03 121.09 L201.17 121.67 L201.32 122.26 L201.46 122.84 L201.60 123.42 L201.74 124.01 L201.88 124.59 L202.01 125.17 L202.15 125.76 L202.28 126.34 L202.42 126.93 L202.55 127.51 L202.68 128.10 L202.82 128.68 L202.95 129.27 L203.08 129.85 L203.21 130.44 L203.33 131.03 L203.46 131.61 L203.59 132.20 L203.71 132.79 L203.84 133.37 L203.96 133.96 L204.09 134.55 L204.21 135.13 L204.33 135.72 L204.45 136.31 L204.57 136.90 L204.69 137.48 L204.81 138.07 L204.93 138.66 L205.05 139.25 L205.17 139.84 L205.28 140.43 L205.40 141.01 L205.51 141.60 L205.63 142.19 L205.74 142.78 L205.85 143.37 L205.96 143.96 L206.08 144.55 L206.19 145.14 L206.30 145.73 L206.41 146.32 L206.51 146.91 L206.62 147.50 L206.73 148.09 L206.84 148.68 L206.94 149.27 L207.05 149.86 L207.15 150.45 L207.26 151.04 L207.36 151.63 L207.46 152.23 L207.56 152.82 L207.66 153.41 L207.76 154.00 L207.86 154.59 L207.96 155.18 L208.06 155.78 L208.16 156.37 L208.25 156.96 L208.35 157.55 L208.45 158.14 L208.54 158.74 L208.63 159.33 L208.73 159.92 L208.82 160.52 L208.91 161.11 L209.00 161.70 L209.09 162.29 L209.18 162.89 L209.27 163.48 L209.36 164.07 L209.45 164.67 L209.53 165.26 L209.62 165.86 L209.71 166.45 L209.79 167.04 L209.88 167.64 L209.96 168.23 L210.04 168.83 L210.13 169.42 L210.21 170.01 L210.29 170.61 L210.37 171.20 L210.45 171.80 L210.53 172.39 L210.61 172.99 L210.69 173.58 L210.76 174.18 L210.84 174.77 L210.92 175.37 L210.99 175.96 L211.07 176.56 L211.14 177.15 L211.22 177.75 L211.29 178.34 L211.36 178.94 L211.44 179.54 L211.51 180.13 L211.58 180.73 L211.65 181.32 L211.72 181.92 L211.79 182.51 L211.86 183.11 L211.93 183.71 L212.00 184.30 L212.07 184.90 L212.13 185.49 L212.20 186.09 L212.27 186.69 L212.34 187.28 L212.40 187.88 L212.47 188.48 L212.53 189.07 L212.60 189.67 L212.66 190.27 L212.73 190.86 L212.79 191.46 L212.86 192.06 L212.92 192.65 L212.98 193.25 L213.05 193.84 L213.11 194.44 L213.17 195.04 L213.24 195.64 L213.30 196.23 L213.36 196.83 L213.42 197.43 L213.48 198.02 L213.55 198.62 L213.61 199.22 L213.67 199.81 L213.73 200.41 L213.79 201.01 L213.86 201.60 L213.92 202.20 L213.98 202.80 L214.04 203.39 L214.10 203.99 L214.17 204.59 L214.23 205.18 L214.29 205.78 L214.35 206.38 L214.42 206.97 L214.48 207.57 L214.55 208.17 L214.61 208.76 L214.68 209.36 L214.74 209.96 L214.81 210.55 L214.88 211.15 L214.95 211.74 L215.02 212.34 L215.09 212.94 L215.16 213.53 L215.24 214.13 L215.32 214.72 L215.40 215.32 L215.48 215.91 L215.57 216.50 L215.67 217.10 L215.77 217.69 L215.88 218.28 L216.01 218.86 L216.16 219.44 L216.39 220.00 L216.81 219.93 L217.01 219.36 L217.14 218.78 L217.24 218.19 L217.33 217.59 L217.41 217.00 L217.48 216.40 L217.54 215.81 L217.61 215.21 L217.66 214.61 L217.72 214.01 L217.77 213.42 L217.82 212.82 L217.87 212.22 L217.91 211.62 L217.96 211.02 L218.00 210.42 L218.05 209.83 L218.09 209.23 L218.13 208.63 L218.17 208.03 L218.20 207.43 L218.24 206.83 L218.28 206.23 L218.31 205.64 L218.35 205.04 L218.38 204.44 L218.42 203.84 L218.45 203.24 L218.49 202.64 L218.52 202.04 L218.55 201.44 L218.59 200.84 L218.62 200.24 L218.65 199.64 L218.68 199.05 L218.71 198.45 L218.74 197.85 L218.77 197.25 L218.80 196.65 L218.83 196.05 L218.86 195.45 L218.89 194.85 L218.92 194.25 L218.95 193.65 L218.98 193.05 L219.01 192.45 L219.04 191.85 L219.07 191.26 L219.10 190.66 L219.13 190.06 L219.16 189.46 L219.19 188.86 L219.22 188.26 L219.25 187.66 L219.27 187.06 L219.30 186.46 L219.33 185.86 L219.36 185.26 L219.39 184.66 L219.42 184.06 L219.45 183.46 L219.48 182.86 L219.51 182.27 L219.53 181.67 L219.56 181.07 L219.59 180.47 L219.62 179.87 L219.65 179.27 L219.68 178.67 L219.71 178.07 L219.74 177.47 L219.77 176.87 L219.80 176.27 L219.83 175.67 L219.86 175.07 L219.89 174.48 L219.92 173.88 L219.95 173.28 L219.98 172.68 L220.01 172.08 L220.05 171.48 L220.08 170.88 L220.11 170.28 L220.14 169.68 L220.17 169.08 L220.21 168.48 L220.24 167.88 L220.27 167.29 L220.31 166.69 L220.34 166.09 L220.38 165.49 L220.41 164.89 L220.45 164.29 L220.49 163.69 L220.52 163.09 L220.56 162.49 L220.60 161.90 L220.64 161.30 L220.68 160.70 L220.72 160.10 L220.76 159.50 L220.80 158.90 L220.84 158.30 L220.89 157.71 L220.93 157.11 L220.98 156.51 L221.03 155.91 L221.07 155.31 L221.12 154.71 L221.18 154.12 L221.23 153.52 L221.29 152.92 L221.34 152.32 L221.41 151.73 L221.47 151.13 L221.54 150.53 L221.61 149.94 L221.69 149.34 L221.77 148.75 L221.86 148.16 L221.96 147.57 L222.08 146.98 L222.22 146.39 L222.40 145.82 L222.73 145.33 L223.17 145.64 L223.40 146.19 L223.57 146.77 L223.72 147.35 L223.85 147.94 L223.96 148.52 L224.07 149.11 L224.17 149.71 L224.27 150.30 L224.36 150.89 L224.44 151.48 L224.53 152.08 L224.61 152.67 L224.69 153.27 L224.77 153.86 L224.84 154.46 L224.92 155.05 L224.99 155.65 L225.06 156.24 L225.13 156.84 L225.20 157.44 L225.27 158.03 L225.33 158.63 L225.40 159.23 L225.46 159.82 L225.53 160.42 L225.59 161.02 L225.65 161.61 L225.72 162.21 L225.78 162.81 L225.84 163.40 L225.90 164.00 L225.96 164.60 L226.02 165.19 L226.08 165.79 L226.14 166.39 L226.20 166.98 L226.26 167.58 L226.32 168.18 L226.37 168.78 L226.43 169.37 L226.49 169.97 L226.55 170.57 L226.61 171.16 L226.66 171.76 L226.72 172.36 L226.78 172.96 L226.83 173.55 L226.89 174.15 L226.95 174.75 L227.00 175.35 L227.06 175.94 L227.12 176.54 L227.18 177.14 L227.23 177.73 L227.29 178.33 L227.35 178.93 L227.40 179.53 L227.46 180.12 L227.52 180.72 L227.58 181.32 L227.63 181.92 L227.69 182.51 L227.75 183.11 L227.81 183.71 L227.87 184.30 L227.92 184.90 L227.98 185.50 L228.04 186.10 L228.10 186.69 L228.16 187.29 L228.22 187.89 L228.28 188.48 L228.34 189.08 L228.40 189.68 L228.46 190.27 L228.52 190.87 L228.59 191.47 L228.65 192.07 L228.71 192.66 L228.77 193.26 L228.84 193.86 L228.90 194.45 L228.96 195.05 L229.03 195.64 L229.10 196.24 L229.16 196.84 L229.23 197.43 L229.30 198.03 L229.36 198.63 L229.43 199.22 L229.50 199.82 L229.57 200.41 L229.64 201.01 L229.72 201.61 L229.79 202.20 L229.86 202.80 L229.94 203.39 L230.01 203.99 L230.09 204.58 L230.17 205.18 L230.25 205.77 L230.33 206.37 L230.41 206.96 L230.50 207.55 L230.58 208.15 L230.67 208.74 L230.76 209.33 L230.85 209.93 L230.95 210.52 L231.04 211.11 L231.14 211.70 L231.24 212.30 L231.35 212.89 L231.46 213.48 L231.57 214.07 L231.69 214.65 L231.81 215.24 L231.94 215.83 L232.08 216.41 L232.23 216.99 L232.39 217.57 L232.56 218.14 L232.76 218.71 L233.00 219.26 L233.31 219.77 L233.81 220.04 L234.25 219.66 L234.52 219.12 L234.71 218.55 L234.88 217.98 L235.02 217.39 L235.14 216.81 L235.26 216.22 L235.37 215.63 L235.46 215.03 L235.56 214.44 L235.64 213.85 L235.73 213.25 L235.81 212.66 L235.88 212.06 L235.96 211.47 L236.03 210.87 L236.10 210.28 L236.17 209.68 L236.23 209.08 L236.29 208.49 L236.36 207.89 L236.42 207.29 L236.48 206.70 L236.53 206.10 L236.59 205.50 L236.65 204.91 L236.70 204.31 L236.76 203.71 L236.81 203.11 L236.86 202.51 L236.91 201.92 L236.97 201.32 L237.02 200.72 L237.07 200.12 L237.12 199.53 L237.17 198.93 L237.22 198.33 L237.26 197.73 L237.31 197.13 L237.36 196.54 L237.41 195.94 L237.46 195.34 L237.50 194.74 L237.55 194.14 L237.60 193.54 L237.64 192.95 L237.69 192.35 L237.74 191.75 L237.78 191.15 L237.83 190.55 L237.87 189.96 L237.92 189.36 L237.97 188.76 L238.01 188.16 L238.06 187.56 L238.10 186.96 L238.15 186.37 L238.20 185.77 L238.24 185.17 L238.29 184.57 L238.34 183.97 L238.38 183.38 L238.43 182.78 L238.48 182.18 L238.53 181.58 L238.57 180.98 L238.62 180.38 L238.67 179.79 L238.72 179.19 L238.77 178.59 L238.82 177.99 L238.87 177.39 L238.92 176.80 L238.97 176.20 L239.02 175.60 L239.07 175.00 L239.13 174.41 L239.18 173.81 L239.23 173.21 L239.29 172.61 L239.34 172.02 L239.40 171.42 L239.45 170.82 L239.51 170.22 L239.57 169.63 L239.63 169.03 L239.69 168.43 L239.75 167.84 L239.81 167.24 L239.88 166.64 L239.94 166.05 L240.01 165.45 L240.07 164.85 L240.14 164.26 L240.21 163.66 L240.29 163.07 L240.36 162.47 L240.44 161.88 L240.51 161.28 L240.59 160.69 L240.68 160.09 L240.76 159.50 L240.85 158.90 L240.94 158.31 L241.04 157.72 L241.14 157.13 L241.24 156.54 L241.35 155.95 L241.47 155.36 L241.60 154.77 L241.74 154.19 L241.89 153.61 L242.07 153.04 L242.30 152.48 L242.48 152.43 L242.55 153.02 L242.59 153.62 L242.67 154.21 L242.76 154.81 L242.83 155.40 L242.90 156.00 L242.96 156.60 L243.02 157.19 L243.07 157.79 L243.12 158.39 L243.16 158.99 L243.21 159.59 L243.25 160.18 L243.29 160.78 L243.32 161.38 L243.36 161.98 L243.40 162.58 L243.43 163.18 L243.46 163.78 L243.49 164.38 L243.52 164.98 L243.55 165.58 L243.58 166.18 L243.61 166.77 L243.64 167.37 L243.66 167.97 L243.69 168.57 L243.71 169.17 L243.74 169.77 L243.76 170.37 L243.79 170.97 L243.81 171.57 L243.83 172.17 L243.86 172.77 L243.88 173.37 L243.90 173.97 L243.92 174.57 L243.94 175.17 L243.97 175.77 L243.99 176.37 L244.01 176.97 L244.03 177.57 L244.05 178.17 L244.07 178.77 L244.09 179.37 L244.11 179.97 L244.13 180.56 L244.15 181.16 L244.17 181.76 L244.19 182.36 L244.21 182.96 L244.22 183.56 L244.24 184.16 L244.26 184.76 L244.28 185.36 L244.30 185.96 L244.32 186.56 L244.34 187.16 L244.35 187.76 L244.37 188.36 L244.39 188.96 L244.41 189.56 L244.43 190.16 L244.45 190.76 L244.46 191.36 L244.48 191.96 L244.50 192.56 L244.52 193.16 L244.54 193.76 L244.55 194.36 L244.57 194.96 L244.59 195.56 L244.61 196.16 L244.63 196.76 L244.65 197.36 L244.67 197.96 L244.68 198.56 L244.70 199.16 L244.72 199.76 L244.74 200.36 L244.76 200.95 L244.78 201.55 L244.80 202.15 L244.82 202.75 L244.84 203.35 L244.86 203.95 L244.88 204.55 L244.90 205.15 L244.92 205.75 L244.94 206.35 L244.97 206.95 L244.99 207.55 L245.01 208.15 L245.03 208.75 L245.06 209.35 L245.08 209.95 L245.14 210.55 L245.20 211.14 L245.27 211.74 L245.33 212.34 L245.40 212.93 L245.46 213.53 L245.53 214.12 L245.60 214.72 L245.69 215.31 L245.77 215.91 L245.85 216.50 L245.94 217.10 L246.02 217.69 L246.11 218.28 L246.20 218.88 L246.29 219.47 L246.39 220.06 L246.52 220.65 L246.81 220.99 L247.00 220.42 L247.14 219.84 L247.27 219.25 L247.37 218.66 L247.47 218.07 L247.57 217.48 L247.66 216.88 L247.75 216.29 L247.84 215.70 L247.93 215.10 L248.01 214.51 L248.10 213.92 L248.18 213.32 L248.26 212.73 L248.34 212.13 L248.43 211.54 L248.51 210.94 L248.59 210.35 L248.66 209.75 L248.71 209.16 L248.77 208.56 L248.82 207.96 L248.88 207.36 L248.93 206.77 L248.99 206.17 L249.04 205.57 L249.10 204.97 L249.15 204.38 L249.21 203.78 L249.27 203.18 L249.32 202.59 L249.38 201.99 L249.44 201.39 L249.50 200.79 L249.56 200.20 L249.61 199.60 L249.68 199.00 L249.74 198.41 L249.80 197.81 L249.86 197.21 L249.92 196.62 L249.99 196.02 L250.05 195.42 L250.11 194.83 L250.18 194.23 L250.25 193.63 L250.31 193.04 L250.38 192.44 L250.45 191.84 L250.52 191.25 L250.59 190.65 L250.66 190.06 L250.74 189.46 L250.81 188.87 L250.88 188.27 L250.96 187.68 L251.03 187.08 L251.11 186.48 L251.19 185.89 L251.27 185.30 L251.34 184.70 L251.40 184.10 L251.46 183.51 L251.50 182.91 L251.55 182.31 L251.60 181.71 L251.66 181.11 L251.71 180.52 L251.77 179.92 L251.83 179.32 L251.90 178.73 L251.96 178.13 L252.03 177.53 L252.10 176.94 L252.18 176.34 L252.25 175.75 L252.33 175.15 L252.42 174.56 L252.50 173.96 L252.59 173.37 L252.68 172.78 L252.78 172.19 L252.87 171.59 L252.97 171.00 L253.07 170.41 L253.18 169.82 L253.28 169.23 L253.39 168.64 L253.50 168.05 L253.60 167.46 L253.71 166.87 L253.82 166.28 L253.93 165.69 L254.04 165.10 L254.15 164.51 L254.27 163.92 L254.38 163.33 L254.49 162.74 L254.61 162.15 L254.72 161.56 L254.84 160.97 L254.95 160.38 L255.07 159.80 L255.19 159.21 L255.30 158.62 L255.42 158.03 L255.54 157.44 L255.66 156.86 L255.78 156.27 L255.90 155.68 L256.02 155.09 L256.15 154.50 L256.27 153.92 L256.39 153.33 L256.51 152.74 L256.64 152.16 L256.76 151.57 L256.89 150.98 L257.01 150.39 L257.14 149.81 L257.26 149.22 L257.39 148.63 L257.51 148.05 L257.64 147.46 L257.77 146.88 L257.90 146.29 L258.02 145.70 L258.15 145.12 L258.28 144.53 L258.41 143.95 L258.54 143.36 L258.67 142.77 L258.80 142.19 L258.94 141.60 L259.07 141.02 L259.20 140.43 L259.33 139.85 L259.47 139.26 L259.60 138.68 L259.73 138.09 L259.87 137.51 L260.00 136.92 L260.14 136.34 L260.27 135.75 L260.41 135.17 L260.55 134.59 L260.69 134.00 L260.82 133.42 L260.96 132.83 L261.10 132.25 L261.24 131.67 L261.38 131.08 L261.52 130.50 L261.67 129.92 L261.81 129.34 L261.95 128.75 L262.10 128.17 L262.24 127.59 L262.39 127.01 L262.54 126.42 L262.68 125.84 L262.83 125.26 L262.98 124.68 L263.13 124.10 L263.28 123.52 L263.43 122.94 L263.59 122.36 L263.74 121.78 L263.90 121.20 L264.06 120.62 L264.21 120.04 L264.37 119.46 L264.54 118.89 L264.70 118.31 L264.86 117.73 L265.03 117.15 L265.20 116.58 L265.36 116.00 L265.54 115.43 L265.71 114.85 L265.88 114.28 L266.06 113.71 L266.24 113.13 L266.42 112.56 L266.61 111.99 L266.80 111.42 L266.99 110.85 L267.18 110.28 L267.38 109.72 L267.58 109.15 L267.78 108.59 L267.99 108.02 L268.20 107.46 L268.42 106.90 L268.64 106.35 L268.87 105.79 L269.10 105.24 L269.34 104.69 L269.59 104.14 L269.85 103.60 L270.11 103.06 L270.39 102.53 L270.67 102.00 L270.97 101.48 L271.29 100.97 L271.62 100.47 L271.97 99.98 L272.34 99.51 L272.74 99.06 L273.16 98.64 L273.63 98.26 L274.13 97.94 L274.68 97.69 L275.26 97.55 L275.86 97.52 L276.45 97.62 L277.01 97.82 L277.54 98.11 L278.03 98.46 L278.49 98.84 L278.92 99.26 L279.33 99.70 L279.72 100.15 L280.10 100.62 L280.46 101.10 L280.81 101.58 L281.16 102.07 L281.49 102.57 L281.82 103.07 L282.15 103.58 L282.46 104.09 L282.77 104.60 L283.08 105.12 L283.38 105.64 L283.68 106.16 L283.97 106.68 L284.25 107.21 L284.53 107.74 L284.81 108.28 L285.07 108.81 L285.34 109.35 L285.59 109.89 L285.84 110.44 L286.08 110.99 L286.32 111.54 L286.54 112.10 L286.76 112.66 L286.98 113.21 L287.20 113.77 L287.42 114.33 L287.63 114.89 L287.84 115.45 L288.05 116.02 L288.26 116.58 L288.47 117.14 L288.68 117.70 L288.89 118.27 L289.09 118.83 L289.30 119.39 L289.50 119.96 L289.70 120.52 L289.91 121.09 L290.11 121.65 L290.31 122.22 L290.51 122.79 L290.71 123.35 L290.91 123.92 L291.10 124.48 L291.30 125.05 L291.50 125.62 L291.70 126.18 L291.90 126.75 L292.09 127.32 L292.29 127.88 L292.49 128.45 L292.68 129.02 L292.88 129.58 L293.08 130.15 L293.27 130.72 L293.47 131.28 L293.67 131.85 L293.86 132.42 L294.06 132.98 L294.26 133.55 L294.45 134.12 L294.65 134.68 L294.85 135.25 L295.05 135.82 L295.24 136.38 L295.44 136.95 L295.64 137.52 L295.84 138.08 L296.04 138.65 L296.24 139.21 L296.44 139.78 L296.64 140.35 L296.84 140.91 L297.04 141.48 L297.24 142.04 L297.44 142.61 L297.65 143.17 L297.85 143.74 L298.06 144.30 L298.26 144.86 L298.46 145.43 L298.67 145.99 L298.88 146.55 L299.08 147.12 L299.29 147.68 L299.50 148.24 L299.70 148.81 L299.91 149.37 L300.12 149.93 L300.33 150.49 L300.54 151.06 L300.75 151.62 L300.96 152.18 L301.17 152.74 L301.39 153.30 L301.60 153.86 L301.81 154.42 L302.03 154.98 L302.25 155.54 L302.46 156.10 L302.68 156.66 L302.90 157.22 L303.12 157.78 L303.34 158.34 L303.56 158.90 L303.78 159.45 L304.00 160.01 L304.23 160.57 L304.45 161.12 L304.68 161.68 L304.91 162.23 L305.14 162.79 L305.37 163.34 L305.60 163.90 L305.83 164.45 L306.06 165.00 L306.30 165.55 L306.53 166.11 L306.77 166.66 L307.01 167.21 L307.24 167.76 L307.47 168.31 L307.70 168.87 L307.93 169.42 L308.16 169.98 L308.39 170.53 L308.62 171.09 L308.85 171.64 L309.08 172.20 L309.31 172.75 L309.54 173.30 L309.77 173.86 L310.00 174.41 L310.24 174.96 L310.47 175.51 L310.71 176.07 L310.95 176.62 L311.19 177.16 L311.44 177.71 L311.68 178.26 L311.94 178.80 L312.19 179.35 L312.45 179.89 L312.71 180.43 L312.98 180.97 L313.25 181.50 L313.52 182.03 L313.81 182.56 L314.09 183.09 L314.38 183.62 L314.68 184.14 L314.98 184.66 L315.29 185.17 L315.60 185.69 L315.91 186.20 L316.23 186.71 L316.55 187.22 L316.87 187.72 L317.19 188.23 L317.52 188.73 L317.85 189.23 L318.18 189.73 L318.51 190.23 L318.85 190.72 L319.19 191.22 L319.53 191.71 L319.88 192.20 L320.23 192.69 L320.58 193.18 L320.93 193.66 L321.29 194.15 L321.65 194.63 L322.01 195.10 L322.37 195.58 L322.74 196.06 L323.11 196.53 L323.49 197.00 L323.86 197.46 L324.24 197.93 L324.62 198.39 L325.01 198.85 L325.40 199.31 L325.79 199.77 L326.18 200.22 L326.58 200.67 L326.98 201.12 L327.38 201.56 L327.79 202.00 L328.19 202.44 L328.61 202.88 L329.02 203.31 L329.44 203.74 L329.86 204.17 L330.28 204.60 L330.71 205.02 L331.14 205.44 L331.57 205.85 L332.00 206.27 L332.44 206.68 L332.88 207.08 L333.33 207.49 L333.77 207.89 L334.22 208.29 L334.68 208.68 L335.13 209.07 L335.59 209.46 L336.05 209.84 L336.51 210.22 L336.98 210.60 L337.45 210.98 L337.92 211.35 L338.39 211.72 L338.87 212.08 L339.35 212.44 L339.83 212.80 L340.31 213.15 L340.80 213.50 L341.29 213.85 L341.78 214.19 L342.28 214.53 L342.77 214.87 L343.27 215.21 L343.77 215.54 L344.28 215.86 L344.78 216.19 L345.29 216.50 L345.80 216.82 L346.32 217.13 L346.83 217.43 L347.35 217.73 L347.88 218.02 L348.41 218.31 L348.94 218.59 L349.47 218.86 L350.00 219.14 L350.54 219.40 L351.08 219.66 L351.62 219.92 L352.17 220.17 L352.72 220.42 L353.26 220.66 L353.81 220.90 L354.37 221.13 L354.92 221.36 L355.48 221.59 L356.03 221.81 L356.59 222.03 L357.15 222.25 L357.71 222.46 L358.28 222.67 L358.84 222.88 L359.40 223.08 L359.97 223.28 L360.53 223.48 L361.10 223.68 L361.67 223.88 L362.23 224.07 L362.80 224.27 L363.37 224.46 L363.94 224.65 L364.51 224.84 L365.08 225.03 L365.65 225.22 L366.21 225.41 L366.78 225.61 L367.35 225.80 L367.92 225.99 L368.49 226.18 L369.06 226.37 L369.63 226.56 L370.20 226.74 L370.77 226.92 L371.34 227.10 L371.92 227.28 L372.49 227.45 L373.07 227.63 L373.64 227.80 L374.22 227.97 L374.79 228.13 L375.37 228.30 L375.95 228.46 L376.53 228.62 L377.10 228.78 L377.68 228.94 L378.26 229.09 L378.84 229.24 L379.42 229.39 L380.01 229.54 L380.59 229.69 L381.17 229.83 L381.75 229.98 L382.33 230.12 L382.92 230.26 L383.50 230.40 L384.09 230.53 L384.67 230.67 L385.26 230.80 L385.84 230.93 L386.43 231.07 L387.01 231.19 L387.60 231.32 L388.19 231.45 L388.77 231.57 L389.36 231.69 L389.95 231.81 L390.54 231.93 L391.00 232.03" stroke="#ff00ff" stroke-width="3.2"/>
</g>
<path d="M61.45 245.55 V242.45 M78.65 245.55 V243.45 M95.85 245.55 V243.45 M113.05 245.55 V243.45 M130.25 245.55 V243.45 M147.45 245.55 V242.45 M164.65 245.55 V243.45 M181.85 245.55 V243.45 M199.05 245.55 V243.45 M216.25 245.55 V243.45 M233.45 245.55 V242.45 M250.65 245.55 V243.45 M267.85 245.55 V243.45 M285.05 245.55 V243.45 M302.25 245.55 V243.45 M319.45 245.55 V242.45 M336.65 245.55 V243.45 M353.85 245.55 V243.45 M371.05 245.55 V243.45 M388.25 245.55 V243.45 M55.1 244.50 H58.20 M55.1 234.00 H57.20 M55.1 223.50 H57.20 M55.1 213.00 H57.20 M55.1 202.50 H57.20 M55.1 192.00 H58.20 M55.1 181.50 H57.20 M55.1 171.00 H57.20 M55.1 160.50 H57.20 M55.1 150.00 H57.20 M55.1 139.50 H58.20 M55.1 129.00 H57.20 M55.1 118.50 H57.20 M55.1 108.00 H57.20 M55.1 97.50 H57.20 M55.1 87.00 H58.20 M55.1 76.50 H57.20 M55.1 66.00 H57.20 M55.1 55.50 H57.20 M55.1 45.00 H57.20 M55.1 34.50 H58.20" stroke="#444" stroke-width="0.7" fill="none"/>
<path d="M61.45 33.75 V36.85 M78.65 33.75 V35.85 M95.85 33.75 V35.85 M113.05 33.75 V35.85 M130.25 33.75 V35.85 M147.45 33.75 V36.85 M164.65 33.75 V35.85 M181.85 33.75 V35.85 M199.05 33.75 V35.85 M216.25 33.75 V35.85 M233.45 33.75 V36.85 M250.65 33.75 V35.85 M267.85 33.75 V35.85 M285.05 33.75 V35.85 M302.25 33.75 V35.85 M319.45 33.75 V36.85 M336.65 33.75 V35.85 M353.85 33.75 V35.85 M371.05 33.75 V35.85 M388.25 33.75 V35.85 M396.9 244.50 H393.80 M396.9 234.00 H394.80 M396.9 223.50 H394.80 M396.9 213.00 H394.80 M396.9 202.50 H394.80 M396.9 192.00 H393.80 M396.9 181.50 H394.80 M396.9 171.00 H394.80 M396.9 160.50 H394.80 M396.9 150.00 H394.80 M396.9 139.50 H393.80 M396.9 129.00 H394.80 M396.9 118.50 H394.80 M396.9 108.00 H394.80 M396.9 97.50 H394.80 M396.9 87.00 H393.80 M396.9 76.50 H394.80 M396.9 66.00 H394.80 M396.9 55.50 H394.80 M396.9 45.00 H394.80 M396.9 34.50 H393.80" stroke="#444" stroke-width="0.7" fill="none" opacity="0.3"/>
<rect x="55.1" y="33.75" width="341.79999999999995" height="211.8" fill="none" stroke="#000" stroke-width="1.5"/>
<line x1="64.2" y1="56.4" x2="88.2" y2="56.4" stroke="#000000" stroke-width="2.9"/>
<line x1="64.2" y1="86.7" x2="88.2" y2="86.7" stroke="#ff0000" stroke-width="2.9"/>
<line x1="64.2" y1="117.3" x2="88.2" y2="117.3" stroke="#00ff00" stroke-width="2.9"/>
<line x1="64.2" y1="147.7" x2="88.2" y2="147.7" stroke="#ff00ff" stroke-width="2.9"/>
<g fill="#0000ff" style="font-family:'Liberation Sans',sans-serif">
<text x="61.00" y="263.9" font-size="17.4" text-anchor="middle">0.0</text>
<text x="147.00" y="263.9" font-size="17.4" text-anchor="middle">0.5</text>
<text x="233.00" y="263.9" font-size="17.4" text-anchor="middle">1.0</text>
<text x="319.00" y="263.9" font-size="17.4" text-anchor="middle">1.5</text>
<text x="53.2" y="251.40" font-size="17.4" text-anchor="end">0.0</text>
<text x="53.2" y="198.90" font-size="17.4" text-anchor="end">0.5</text>
<text x="53.2" y="146.40" font-size="17.4" text-anchor="end">1.0</text>
<text x="53.2" y="93.90" font-size="17.4" text-anchor="end">1.5</text>
<text x="53.2" y="41.40" font-size="17.4" text-anchor="end">2.0</text>
<text transform="translate(97.6,61.40) skewX(-9) scale(1.08,1)" font-style="italic" font-size="19">f</text>
<text x="106.0" y="60.2" font-size="16.2">=0</text>
<text transform="translate(97.6,91.80) skewX(-9) scale(1.08,1)" font-style="italic" font-size="19">f</text>
<text x="106.0" y="90.6" font-size="16.2">=0.1<tspan font-style="italic" dx="0.4">ω</tspan><tspan font-style="italic" font-size="11" dy="2.6" dx="-0.7">p</tspan></text>
<text transform="translate(97.6,122.20) skewX(-9) scale(1.08,1)" font-style="italic" font-size="19">f</text>
<text x="106.0" y="121.0" font-size="16.2">=0.15<tspan font-style="italic" dx="0.4">ω</tspan><tspan font-style="italic" font-size="11" dy="2.6" dx="-0.7">p</tspan></text>
<text transform="translate(97.6,152.60) skewX(-9) scale(1.08,1)" font-style="italic" font-size="19">f</text>
<text x="106.0" y="151.4" font-size="16.2">=0.2<tspan font-style="italic" dx="0.4">ω</tspan><tspan font-style="italic" font-size="11" dy="2.6" dx="-0.7">p</tspan></text>
<text x="204.8" y="290.7" font-size="22" font-style="italic">δ/ω<tspan font-size="14.5" dy="3.8" dx="-0.5">p</tspan></text>
<text transform="translate(19.4,174.5) rotate(-90)" font-size="20.8">Re[<tspan font-style="italic">ϵ</tspan><tspan font-size="14.3" dy="3.5" dx="0.4">out</tspan><tspan dy="-3.5" dx="2.1">]</tspan></text>
</g>
<text x="356.3" y="67.6" font-size="21.2" letter-spacing="-0.3" fill="#000" style="font-family:'Liberation Sans',sans-serif">(a)</text>
</svg>
</body></html>
